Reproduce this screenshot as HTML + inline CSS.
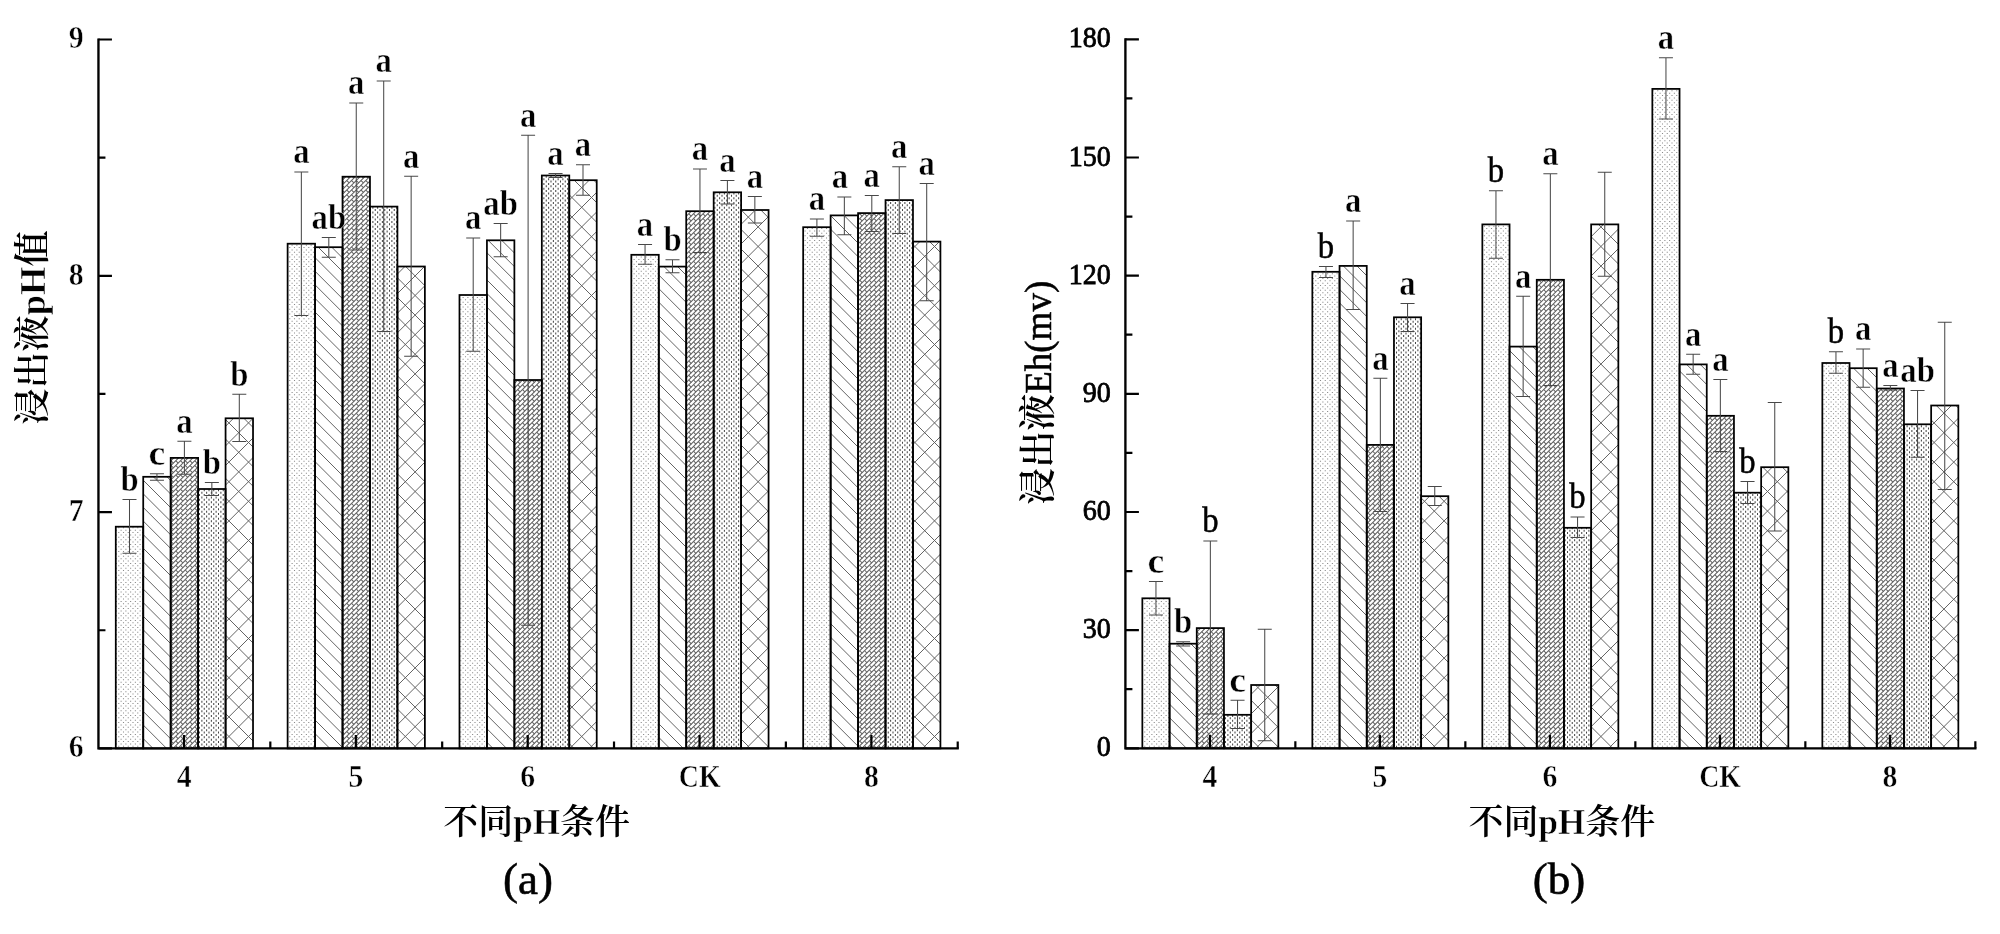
<!DOCTYPE html>
<html lang="zh">
<head>
<meta charset="utf-8">
<title>不同pH条件下浸出液pH值与Eh</title>
<style>
html,body{margin:0;padding:0;background:#fff}
body{width:2000px;height:934px;overflow:hidden}
svg{display:block;will-change:transform;opacity:.999}
text{fill:#000}
.sig{font-family:"Liberation Serif","Noto Serif CJK SC",serif;font-size:35px;font-weight:bold;text-anchor:middle;stroke:#fff;stroke-width:.5px}
.tk{font-family:"Liberation Serif","Noto Serif CJK SC",serif;font-size:31px;font-weight:bold;stroke:#fff;stroke-width:.5px}
.ttl{font-family:"Liberation Serif","Noto Serif CJK SC",serif;font-size:36px;font-weight:600;text-anchor:middle}
.cap{font-family:"Liberation Serif","Noto Serif CJK SC",serif;font-size:45px;text-anchor:middle;stroke:#000;stroke-width:.6px}
.b{font-weight:bold;stroke:#fff;stroke-width:.6px}
.r{font-weight:400;stroke:#000;stroke-width:.5px}
.tk.r{stroke-width:.8px;font-size:29.2px}
</style>
</head>
<body>
<svg width="2000" height="934" viewBox="0 0 2000 934">
<rect width="2000" height="934" fill="#fff"/>

<clipPath id="cL1">
<rect x="115.78" y="526.7" width="27.45" height="221.7"/>
<rect x="287.62" y="243.7" width="27.45" height="504.7"/>
<rect x="459.48" y="295" width="27.45" height="453.4"/>
<rect x="631.32" y="254.8" width="27.45" height="493.6"/>
<rect x="803.17" y="227.2" width="27.45" height="521.2"/>
</clipPath>
<clipPath id="cL2">
<rect x="143.22" y="476.8" width="27.45" height="271.6"/>
<rect x="315.07" y="247.2" width="27.45" height="501.2"/>
<rect x="486.93" y="240.3" width="27.45" height="508.1"/>
<rect x="658.77" y="266.6" width="27.45" height="481.8"/>
<rect x="830.62" y="215.4" width="27.45" height="533"/>
</clipPath>
<clipPath id="cL3">
<rect x="170.68" y="457.9" width="27.45" height="290.5"/>
<rect x="342.52" y="176.7" width="27.45" height="571.7"/>
<rect x="514.38" y="380" width="27.45" height="368.4"/>
<rect x="686.22" y="211.2" width="27.45" height="537.2"/>
<rect x="858.07" y="213.1" width="27.45" height="535.3"/>
</clipPath>
<clipPath id="cL4">
<rect x="198.12" y="489" width="27.45" height="259.4"/>
<rect x="369.98" y="206.6" width="27.45" height="541.8"/>
<rect x="541.83" y="175.5" width="27.45" height="572.9"/>
<rect x="713.67" y="192.3" width="27.45" height="556.1"/>
<rect x="885.52" y="200.1" width="27.45" height="548.3"/>
</clipPath>
<clipPath id="cL5">
<rect x="225.57" y="418.3" width="27.45" height="330.1"/>
<rect x="397.43" y="266.5" width="27.45" height="481.9"/>
<rect x="569.27" y="180.2" width="27.45" height="568.2"/>
<rect x="741.12" y="210" width="27.45" height="538.4"/>
<rect x="912.97" y="241.6" width="27.45" height="506.8"/>
</clipPath>
<g clip-path="url(#cL1)" fill="none" stroke="#8a8a8a" stroke-width="1.1" stroke-dasharray="1.1 3.65">
<path d="M118.75 517.75V748.4M123.5 517.75V748.4M128.25 517.75V748.4M133 517.75V748.4M137.75 517.75V748.4M142.5 517.75V748.4M289.75 237.5V748.4M294.5 237.5V748.4M299.25 237.5V748.4M304 237.5V748.4M308.75 237.5V748.4M313.5 237.5V748.4M460.75 285V748.4M465.5 285V748.4M470.25 285V748.4M475 285V748.4M479.75 285V748.4M484.5 285V748.4M631.75 247V748.4M636.5 247V748.4M641.25 247V748.4M646 247V748.4M650.75 247V748.4M655.5 247V748.4M802.75 218.5V748.4M807.5 218.5V748.4M812.25 218.5V748.4M817 218.5V748.4M821.75 218.5V748.4M826.5 218.5V748.4M831.25 218.5V748.4"/>
<path stroke-dashoffset="2.375" d="M116.38 517.75V748.4M121.12 517.75V748.4M125.88 517.75V748.4M130.62 517.75V748.4M135.38 517.75V748.4M140.12 517.75V748.4M287.38 237.5V748.4M292.12 237.5V748.4M296.88 237.5V748.4M301.62 237.5V748.4M306.38 237.5V748.4M311.12 237.5V748.4M315.88 237.5V748.4M463.12 285V748.4M467.88 285V748.4M472.62 285V748.4M477.38 285V748.4M482.12 285V748.4M486.88 285V748.4M634.12 247V748.4M638.88 247V748.4M643.62 247V748.4M648.38 247V748.4M653.12 247V748.4M657.88 247V748.4M805.12 218.5V748.4M809.88 218.5V748.4M814.62 218.5V748.4M819.38 218.5V748.4M824.12 218.5V748.4M828.88 218.5V748.4"/>
</g>
<g clip-path="url(#cL2)"><path d="M98.45 748.25L98.6 748.4M98.45 734.65L112.2 748.4M98.45 721.05L125.8 748.4M98.45 707.45L139.4 748.4M98.45 693.85L153 748.4M98.45 680.25L166.6 748.4M98.45 666.65L180.2 748.4M98.45 653.05L193.8 748.4M98.45 639.45L207.4 748.4M98.45 625.85L221 748.4M98.45 612.25L234.6 748.4M98.45 598.65L248.2 748.4M98.45 585.05L261.8 748.4M98.45 571.45L275.4 748.4M98.45 557.85L289 748.4M98.45 544.25L302.6 748.4M98.45 530.65L316.2 748.4M98.45 517.05L329.8 748.4M98.45 503.45L343.4 748.4M98.45 489.85L357 748.4M98.45 476.25L370.6 748.4M98.45 462.65L384.2 748.4M98.45 449.05L397.8 748.4M98.45 435.45L411.4 748.4M98.45 421.85L425 748.4M98.45 408.25L438.6 748.4M98.45 394.65L452.2 748.4M98.45 381.05L465.8 748.4M98.45 367.45L479.4 748.4M98.45 353.85L493 748.4M98.45 340.25L506.6 748.4M98.45 326.65L520.2 748.4M98.45 313.05L533.8 748.4M98.45 299.45L547.4 748.4M98.45 285.85L561 748.4M98.45 272.25L574.6 748.4M98.45 258.65L588.2 748.4M98.45 245.05L601.8 748.4M98.45 231.45L615.4 748.4M98.45 217.85L629 748.4M98.45 204.25L642.6 748.4M98.45 190.65L656.2 748.4M98.45 177.05L669.8 748.4M98.45 163.45L683.4 748.4M98.45 149.85L697 748.4M98.45 136.25L710.6 748.4M98.45 122.65L724.2 748.4M98.45 109.05L737.8 748.4M98.45 95.45L751.4 748.4M98.45 81.85L765 748.4M98.45 68.25L778.6 748.4M98.45 54.65L792.2 748.4M98.45 41.05L805.8 748.4M111 40L819.4 748.4M124.6 40L833 748.4M138.2 40L846.6 748.4M151.8 40L860.2 748.4M165.4 40L873.8 748.4M179 40L887.4 748.4M192.6 40L901 748.4M206.2 40L914.6 748.4M219.8 40L928.2 748.4M233.4 40L941.8 748.4M247 40L955.4 748.4M260.6 40L957.7 737.1M274.2 40L957.7 723.5M287.8 40L957.7 709.9M301.4 40L957.7 696.3M315 40L957.7 682.7M328.6 40L957.7 669.1M342.2 40L957.7 655.5M355.8 40L957.7 641.9M369.4 40L957.7 628.3M383 40L957.7 614.7M396.6 40L957.7 601.1M410.2 40L957.7 587.5M423.8 40L957.7 573.9M437.4 40L957.7 560.3M451 40L957.7 546.7M464.6 40L957.7 533.1M478.2 40L957.7 519.5M491.8 40L957.7 505.9M505.4 40L957.7 492.3M519 40L957.7 478.7M532.6 40L957.7 465.1M546.2 40L957.7 451.5M559.8 40L957.7 437.9M573.4 40L957.7 424.3M587 40L957.7 410.7M600.6 40L957.7 397.1M614.2 40L957.7 383.5M627.8 40L957.7 369.9M641.4 40L957.7 356.3M655 40L957.7 342.7M668.6 40L957.7 329.1M682.2 40L957.7 315.5M695.8 40L957.7 301.9M709.4 40L957.7 288.3M723 40L957.7 274.7M736.6 40L957.7 261.1M750.2 40L957.7 247.5M763.8 40L957.7 233.9M777.4 40L957.7 220.3M791 40L957.7 206.7M804.6 40L957.7 193.1M818.2 40L957.7 179.5M831.8 40L957.7 165.9M845.4 40L957.7 152.3M859 40L957.7 138.7M872.6 40L957.7 125.1M886.2 40L957.7 111.5M899.8 40L957.7 97.9M913.4 40L957.7 84.3M927 40L957.7 70.7M940.6 40L957.7 57.1M954.2 40L957.7 43.5" fill="none" stroke="#5c5c5c" stroke-width="0.95"/></g>
<g clip-path="url(#cL3)" fill="none">
<path d="M98.45 44.05L102.5 40M98.45 48.8L107.25 40M98.45 53.55L112 40M98.45 58.3L116.75 40M98.45 63.05L121.5 40M98.45 67.8L126.25 40M98.45 72.55L131 40M98.45 77.3L135.75 40M98.45 82.05L140.5 40M98.45 86.8L145.25 40M98.45 91.55L150 40M98.45 96.3L154.75 40M98.45 101.05L159.5 40M98.45 105.8L164.25 40M98.45 110.55L169 40M98.45 115.3L173.75 40M98.45 120.05L178.5 40M98.45 124.8L183.25 40M98.45 129.55L188 40M98.45 134.3L192.75 40M98.45 139.05L197.5 40M98.45 143.8L202.25 40M98.45 148.55L207 40M98.45 153.3L211.75 40M98.45 158.05L216.5 40M98.45 162.8L221.25 40M98.45 167.55L226 40M98.45 172.3L230.75 40M98.45 177.05L235.5 40M98.45 181.8L240.25 40M98.45 186.55L245 40M98.45 191.3L249.75 40M98.45 196.05L254.5 40M98.45 200.8L259.25 40M98.45 205.55L264 40M98.45 210.3L268.75 40M98.45 215.05L273.5 40M98.45 219.8L278.25 40M98.45 224.55L283 40M98.45 229.3L287.75 40M98.45 234.05L292.5 40M98.45 238.8L297.25 40M98.45 243.55L302 40M98.45 248.3L306.75 40M98.45 253.05L311.5 40M98.45 257.8L316.25 40M98.45 262.55L321 40M98.45 267.3L325.75 40M98.45 272.05L330.5 40M98.45 276.8L335.25 40M98.45 281.55L340 40M98.45 286.3L344.75 40M98.45 291.05L349.5 40M98.45 295.8L354.25 40M98.45 300.55L359 40M98.45 305.3L363.75 40M98.45 310.05L368.5 40M98.45 314.8L373.25 40M98.45 319.55L378 40M98.45 324.3L382.75 40M98.45 329.05L387.5 40M98.45 333.8L392.25 40M98.45 338.55L397 40M98.45 343.3L401.75 40M98.45 348.05L406.5 40M98.45 352.8L411.25 40M98.45 357.55L416 40M98.45 362.3L420.75 40M98.45 367.05L425.5 40M98.45 371.8L430.25 40M98.45 376.55L435 40M98.45 381.3L439.75 40M98.45 386.05L444.5 40M98.45 390.8L449.25 40M98.45 395.55L454 40M98.45 400.3L458.75 40M98.45 405.05L463.5 40M98.45 409.8L468.25 40M98.45 414.55L473 40M98.45 419.3L477.75 40M98.45 424.05L482.5 40M98.45 428.8L487.25 40M98.45 433.55L492 40M98.45 438.3L496.75 40M98.45 443.05L501.5 40M98.45 447.8L506.25 40M98.45 452.55L511 40M98.45 457.3L515.75 40M98.45 462.05L520.5 40M98.45 466.8L525.25 40M98.45 471.55L530 40M98.45 476.3L534.75 40M98.45 481.05L539.5 40M98.45 485.8L544.25 40M98.45 490.55L549 40M98.45 495.3L553.75 40M98.45 500.05L558.5 40M98.45 504.8L563.25 40M98.45 509.55L568 40M98.45 514.3L572.75 40M98.45 519.05L577.5 40M98.45 523.8L582.25 40M98.45 528.55L587 40M98.45 533.3L591.75 40M98.45 538.05L596.5 40M98.45 542.8L601.25 40M98.45 547.55L606 40M98.45 552.3L610.75 40M98.45 557.05L615.5 40M98.45 561.8L620.25 40M98.45 566.55L625 40M98.45 571.3L629.75 40M98.45 576.05L634.5 40M98.45 580.8L639.25 40M98.45 585.55L644 40M98.45 590.3L648.75 40M98.45 595.05L653.5 40M98.45 599.8L658.25 40M98.45 604.55L663 40M98.45 609.3L667.75 40M98.45 614.05L672.5 40M98.45 618.8L677.25 40M98.45 623.55L682 40M98.45 628.3L686.75 40M98.45 633.05L691.5 40M98.45 637.8L696.25 40M98.45 642.55L701 40M98.45 647.3L705.75 40M98.45 652.05L710.5 40M98.45 656.8L715.25 40M98.45 661.55L720 40M98.45 666.3L724.75 40M98.45 671.05L729.5 40M98.45 675.8L734.25 40M98.45 680.55L739 40M98.45 685.3L743.75 40M98.45 690.05L748.5 40M98.45 694.8L753.25 40M98.45 699.55L758 40M98.45 704.3L762.75 40M98.45 709.05L767.5 40M98.45 713.8L772.25 40M98.45 718.55L777 40M98.45 723.3L781.75 40M98.45 728.05L786.5 40M98.45 732.8L791.25 40M98.45 737.55L796 40M98.45 742.3L800.75 40M98.45 747.05L805.5 40M101.85 748.4L810.25 40M106.6 748.4L815 40M111.35 748.4L819.75 40M116.1 748.4L824.5 40M120.85 748.4L829.25 40M125.6 748.4L834 40M130.35 748.4L838.75 40M135.1 748.4L843.5 40M139.85 748.4L848.25 40M144.6 748.4L853 40M149.35 748.4L857.75 40M154.1 748.4L862.5 40M158.85 748.4L867.25 40M163.6 748.4L872 40M168.35 748.4L876.75 40M173.1 748.4L881.5 40M177.85 748.4L886.25 40M182.6 748.4L891 40M187.35 748.4L895.75 40M192.1 748.4L900.5 40M196.85 748.4L905.25 40M201.6 748.4L910 40M206.35 748.4L914.75 40M211.1 748.4L919.5 40M215.85 748.4L924.25 40M220.6 748.4L929 40M225.35 748.4L933.75 40M230.1 748.4L938.5 40M234.85 748.4L943.25 40M239.6 748.4L948 40M244.35 748.4L952.75 40M249.1 748.4L957.5 40M253.85 748.4L957.7 44.55M258.6 748.4L957.7 49.3M263.35 748.4L957.7 54.05M268.1 748.4L957.7 58.8M272.85 748.4L957.7 63.55M277.6 748.4L957.7 68.3M282.35 748.4L957.7 73.05M287.1 748.4L957.7 77.8M291.85 748.4L957.7 82.55M296.6 748.4L957.7 87.3M301.35 748.4L957.7 92.05M306.1 748.4L957.7 96.8M310.85 748.4L957.7 101.55M315.6 748.4L957.7 106.3M320.35 748.4L957.7 111.05M325.1 748.4L957.7 115.8M329.85 748.4L957.7 120.55M334.6 748.4L957.7 125.3M339.35 748.4L957.7 130.05M344.1 748.4L957.7 134.8M348.85 748.4L957.7 139.55M353.6 748.4L957.7 144.3M358.35 748.4L957.7 149.05M363.1 748.4L957.7 153.8M367.85 748.4L957.7 158.55M372.6 748.4L957.7 163.3M377.35 748.4L957.7 168.05M382.1 748.4L957.7 172.8M386.85 748.4L957.7 177.55M391.6 748.4L957.7 182.3M396.35 748.4L957.7 187.05M401.1 748.4L957.7 191.8M405.85 748.4L957.7 196.55M410.6 748.4L957.7 201.3M415.35 748.4L957.7 206.05M420.1 748.4L957.7 210.8M424.85 748.4L957.7 215.55M429.6 748.4L957.7 220.3M434.35 748.4L957.7 225.05M439.1 748.4L957.7 229.8M443.85 748.4L957.7 234.55M448.6 748.4L957.7 239.3M453.35 748.4L957.7 244.05M458.1 748.4L957.7 248.8M462.85 748.4L957.7 253.55M467.6 748.4L957.7 258.3M472.35 748.4L957.7 263.05M477.1 748.4L957.7 267.8M481.85 748.4L957.7 272.55M486.6 748.4L957.7 277.3M491.35 748.4L957.7 282.05M496.1 748.4L957.7 286.8M500.85 748.4L957.7 291.55M505.6 748.4L957.7 296.3M510.35 748.4L957.7 301.05M515.1 748.4L957.7 305.8M519.85 748.4L957.7 310.55M524.6 748.4L957.7 315.3M529.35 748.4L957.7 320.05M534.1 748.4L957.7 324.8M538.85 748.4L957.7 329.55M543.6 748.4L957.7 334.3M548.35 748.4L957.7 339.05M553.1 748.4L957.7 343.8M557.85 748.4L957.7 348.55M562.6 748.4L957.7 353.3M567.35 748.4L957.7 358.05M572.1 748.4L957.7 362.8M576.85 748.4L957.7 367.55M581.6 748.4L957.7 372.3M586.35 748.4L957.7 377.05M591.1 748.4L957.7 381.8M595.85 748.4L957.7 386.55M600.6 748.4L957.7 391.3M605.35 748.4L957.7 396.05M610.1 748.4L957.7 400.8M614.85 748.4L957.7 405.55M619.6 748.4L957.7 410.3M624.35 748.4L957.7 415.05M629.1 748.4L957.7 419.8M633.85 748.4L957.7 424.55M638.6 748.4L957.7 429.3M643.35 748.4L957.7 434.05M648.1 748.4L957.7 438.8M652.85 748.4L957.7 443.55M657.6 748.4L957.7 448.3M662.35 748.4L957.7 453.05M667.1 748.4L957.7 457.8M671.85 748.4L957.7 462.55M676.6 748.4L957.7 467.3M681.35 748.4L957.7 472.05M686.1 748.4L957.7 476.8M690.85 748.4L957.7 481.55M695.6 748.4L957.7 486.3M700.35 748.4L957.7 491.05M705.1 748.4L957.7 495.8M709.85 748.4L957.7 500.55M714.6 748.4L957.7 505.3M719.35 748.4L957.7 510.05M724.1 748.4L957.7 514.8M728.85 748.4L957.7 519.55M733.6 748.4L957.7 524.3M738.35 748.4L957.7 529.05M743.1 748.4L957.7 533.8M747.85 748.4L957.7 538.55M752.6 748.4L957.7 543.3M757.35 748.4L957.7 548.05M762.1 748.4L957.7 552.8M766.85 748.4L957.7 557.55M771.6 748.4L957.7 562.3M776.35 748.4L957.7 567.05M781.1 748.4L957.7 571.8M785.85 748.4L957.7 576.55M790.6 748.4L957.7 581.3M795.35 748.4L957.7 586.05M800.1 748.4L957.7 590.8M804.85 748.4L957.7 595.55M809.6 748.4L957.7 600.3M814.35 748.4L957.7 605.05M819.1 748.4L957.7 609.8M823.85 748.4L957.7 614.55M828.6 748.4L957.7 619.3M833.35 748.4L957.7 624.05M838.1 748.4L957.7 628.8M842.85 748.4L957.7 633.55M847.6 748.4L957.7 638.3M852.35 748.4L957.7 643.05M857.1 748.4L957.7 647.8M861.85 748.4L957.7 652.55M866.6 748.4L957.7 657.3M871.35 748.4L957.7 662.05M876.1 748.4L957.7 666.8M880.85 748.4L957.7 671.55M885.6 748.4L957.7 676.3M890.35 748.4L957.7 681.05M895.1 748.4L957.7 685.8M899.85 748.4L957.7 690.55M904.6 748.4L957.7 695.3M909.35 748.4L957.7 700.05M914.1 748.4L957.7 704.8M918.85 748.4L957.7 709.55M923.6 748.4L957.7 714.3M928.35 748.4L957.7 719.05M933.1 748.4L957.7 723.8M937.85 748.4L957.7 728.55M942.6 748.4L957.7 733.3M947.35 748.4L957.7 738.05M952.1 748.4L957.7 742.8M956.85 748.4L957.7 747.55" stroke="#626262" stroke-width="1.04"/>
<g stroke="#626262" stroke-width="1.02" stroke-dasharray="3.36 3.36">
<path d="M-266 380L534.8 1180.8M-261.25 375.25L539.55 1176.05M-256.5 370.5L544.3 1171.3M-251.75 365.75L549.05 1166.55M-247 361L553.8 1161.8M-242.25 356.25L558.55 1157.05M-237.5 351.5L563.3 1152.3M-232.75 346.75L568.05 1147.55M-228 342L572.8 1142.8M-223.25 337.25L577.55 1138.05M-218.5 332.5L582.3 1133.3M-213.75 327.75L587.05 1128.55M-209 323L591.8 1123.8M-204.25 318.25L596.55 1119.05M-199.5 313.5L601.3 1114.3M-194.75 308.75L606.05 1109.55M-190 304L610.8 1104.8M-185.25 299.25L615.55 1100.05M-180.5 294.5L620.3 1095.3M-175.75 289.75L625.05 1090.55M-171 285L629.8 1085.8M-166.25 280.25L634.55 1081.05M-161.5 275.5L639.3 1076.3M-156.75 270.75L644.05 1071.55M-152 266L648.8 1066.8M-147.25 261.25L653.55 1062.05M-142.5 256.5L658.3 1057.3M-137.75 251.75L663.05 1052.55M-133 247L667.8 1047.8M-128.25 242.25L672.55 1043.05M-123.5 237.5L677.3 1038.3M-118.75 232.75L682.05 1033.55M-114 228L686.8 1028.8M-109.25 223.25L691.55 1024.05M-104.5 218.5L696.3 1019.3M-99.75 213.75L701.05 1014.55M-95 209L705.8 1009.8M-90.25 204.25L710.55 1005.05M-85.5 199.5L715.3 1000.3M-80.75 194.75L720.05 995.55M-76 190L724.8 990.8M-71.25 185.25L729.55 986.05M-66.5 180.5L734.3 981.3M-61.75 175.75L739.05 976.55M-57 171L743.8 971.8M-52.25 166.25L748.55 967.05M-47.5 161.5L753.3 962.3M-42.75 156.75L758.05 957.55M-38 152L762.8 952.8M-33.25 147.25L767.55 948.05M-28.5 142.5L772.3 943.3M-23.75 137.75L777.05 938.55M-19 133L781.8 933.8M-14.25 128.25L786.55 929.05M-9.5 123.5L791.3 924.3M-4.75 118.75L796.05 919.55M0 114L800.8 914.8M4.75 109.25L805.55 910.05M9.5 104.5L810.3 905.3M14.25 99.75L815.05 900.55M19 95L819.8 895.8M23.75 90.25L824.55 891.05M28.5 85.5L829.3 886.3M33.25 80.75L834.05 881.55M38 76L838.8 876.8M42.75 71.25L843.55 872.05M47.5 66.5L848.3 867.3M52.25 61.75L853.05 862.55M57 57L857.8 857.8M61.75 52.25L862.55 853.05M66.5 47.5L867.3 848.3M71.25 42.75L872.05 843.55M76 38L876.8 838.8M80.75 33.25L881.55 834.05M85.5 28.5L886.3 829.3M90.25 23.75L891.05 824.55M95 19L895.8 819.8M99.75 14.25L900.55 815.05M104.5 9.5L905.3 810.3M109.25 4.75L910.05 805.55M114 0L914.8 800.8M118.75 -4.75L919.55 796.05M123.5 -9.5L924.3 791.3M128.25 -14.25L929.05 786.55M133 -19L933.8 781.8M137.75 -23.75L938.55 777.05M142.5 -28.5L943.3 772.3M147.25 -33.25L948.05 767.55M152 -38L952.8 762.8M156.75 -42.75L957.55 758.05M161.5 -47.5L962.3 753.3M166.25 -52.25L967.05 748.55M171 -57L971.8 743.8M175.75 -61.75L976.55 739.05M180.5 -66.5L981.3 734.3M185.25 -71.25L986.05 729.55M190 -76L990.8 724.8M194.75 -80.75L995.55 720.05M199.5 -85.5L1000.3 715.3M204.25 -90.25L1005.05 710.55M209 -95L1009.8 705.8M213.75 -99.75L1014.55 701.05M218.5 -104.5L1019.3 696.3M223.25 -109.25L1024.05 691.55M228 -114L1028.8 686.8M232.75 -118.75L1033.55 682.05M237.5 -123.5L1038.3 677.3M242.25 -128.25L1043.05 672.55M247 -133L1047.8 667.8M251.75 -137.75L1052.55 663.05M256.5 -142.5L1057.3 658.3M261.25 -147.25L1062.05 653.55M266 -152L1066.8 648.8M270.75 -156.75L1071.55 644.05M275.5 -161.5L1076.3 639.3M280.25 -166.25L1081.05 634.55M285 -171L1085.8 629.8M289.75 -175.75L1090.55 625.05M294.5 -180.5L1095.3 620.3M299.25 -185.25L1100.05 615.55M304 -190L1104.8 610.8M308.75 -194.75L1109.55 606.05M313.5 -199.5L1114.3 601.3M318.25 -204.25L1119.05 596.55M323 -209L1123.8 591.8M327.75 -213.75L1128.55 587.05M332.5 -218.5L1133.3 582.3M337.25 -223.25L1138.05 577.55M342 -228L1142.8 572.8M346.75 -232.75L1147.55 568.05M351.5 -237.5L1152.3 563.3M356.25 -242.25L1157.05 558.55M361 -247L1161.8 553.8M365.75 -251.75L1166.55 549.05M370.5 -256.5L1171.3 544.3M375.25 -261.25L1176.05 539.55M380 -266L1180.8 534.8M384.75 -270.75L1185.55 530.05M389.5 -275.5L1190.3 525.3M394.25 -280.25L1195.05 520.55M399 -285L1199.8 515.8M403.75 -289.75L1204.55 511.05M408.5 -294.5L1209.3 506.3M413.25 -299.25L1214.05 501.55M418 -304L1218.8 496.8M422.75 -308.75L1223.55 492.05M427.5 -313.5L1228.3 487.3M432.25 -318.25L1233.05 482.55M437 -323L1237.8 477.8M441.75 -327.75L1242.55 473.05M446.5 -332.5L1247.3 468.3M451.25 -337.25L1252.05 463.55M456 -342L1256.8 458.8M460.75 -346.75L1261.55 454.05M465.5 -351.5L1266.3 449.3M470.25 -356.25L1271.05 444.55M475 -361L1275.8 439.8M479.75 -365.75L1280.55 435.05M484.5 -370.5L1285.3 430.3M489.25 -375.25L1290.05 425.55M494 -380L1294.8 420.8M498.75 -384.75L1299.55 416.05M503.5 -389.5L1304.3 411.3M508.25 -394.25L1309.05 406.55M513 -399L1313.8 401.8M517.75 -403.75L1318.55 397.05"/>
<path stroke-dashoffset="3.36" d="M-268.38 382.38L532.42 1183.17M-263.62 377.62L537.17 1178.42M-258.88 372.88L541.92 1173.67M-254.12 368.12L546.67 1168.92M-249.38 363.38L551.42 1164.17M-244.62 358.62L556.17 1159.42M-239.88 353.88L560.92 1154.67M-235.12 349.12L565.67 1149.92M-230.38 344.38L570.42 1145.17M-225.62 339.62L575.17 1140.42M-220.88 334.88L579.92 1135.67M-216.12 330.12L584.67 1130.92M-211.38 325.38L589.42 1126.17M-206.62 320.62L594.17 1121.42M-201.88 315.88L598.92 1116.67M-197.12 311.12L603.67 1111.92M-192.38 306.38L608.42 1107.17M-187.62 301.62L613.17 1102.42M-182.88 296.88L617.92 1097.67M-178.12 292.12L622.67 1092.92M-173.38 287.38L627.42 1088.17M-168.62 282.62L632.17 1083.42M-163.88 277.88L636.92 1078.67M-159.12 273.12L641.67 1073.92M-154.38 268.38L646.42 1069.17M-149.62 263.62L651.17 1064.42M-144.88 258.88L655.92 1059.67M-140.12 254.12L660.67 1054.92M-135.38 249.38L665.42 1050.17M-130.62 244.62L670.17 1045.42M-125.88 239.88L674.92 1040.67M-121.12 235.12L679.67 1035.92M-116.38 230.38L684.42 1031.17M-111.62 225.62L689.17 1026.42M-106.88 220.88L693.92 1021.67M-102.12 216.12L698.67 1016.92M-97.38 211.38L703.42 1012.17M-92.62 206.62L708.17 1007.42M-87.88 201.88L712.92 1002.67M-83.12 197.12L717.67 997.92M-78.38 192.38L722.42 993.17M-73.62 187.62L727.17 988.42M-68.88 182.88L731.92 983.67M-64.12 178.12L736.67 978.92M-59.38 173.38L741.42 974.17M-54.62 168.62L746.17 969.42M-49.88 163.88L750.92 964.67M-45.12 159.12L755.67 959.92M-40.38 154.38L760.42 955.17M-35.62 149.62L765.17 950.42M-30.88 144.88L769.92 945.67M-26.12 140.12L774.67 940.92M-21.38 135.38L779.42 936.17M-16.62 130.62L784.17 931.42M-11.88 125.88L788.92 926.67M-7.12 121.12L793.67 921.92M-2.38 116.38L798.42 917.17M2.38 111.62L803.17 912.42M7.12 106.88L807.92 907.67M11.88 102.12L812.67 902.92M16.62 97.38L817.42 898.17M21.38 92.62L822.17 893.42M26.12 87.88L826.92 888.67M30.88 83.12L831.67 883.92M35.62 78.38L836.42 879.17M40.38 73.62L841.17 874.42M45.12 68.88L845.92 869.67M49.88 64.12L850.67 864.92M54.62 59.38L855.42 860.17M59.38 54.62L860.17 855.42M64.12 49.88L864.92 850.67M68.88 45.12L869.67 845.92M73.62 40.38L874.42 841.17M78.38 35.62L879.17 836.42M83.12 30.88L883.92 831.67M87.88 26.12L888.67 826.92M92.62 21.38L893.42 822.17M97.38 16.62L898.17 817.42M102.12 11.88L902.92 812.67M106.88 7.12L907.67 807.92M111.62 2.38L912.42 803.17M116.38 -2.38L917.17 798.42M121.12 -7.12L921.92 793.67M125.88 -11.88L926.67 788.92M130.62 -16.62L931.42 784.17M135.38 -21.38L936.17 779.42M140.12 -26.12L940.92 774.67M144.88 -30.88L945.67 769.92M149.62 -35.62L950.42 765.17M154.38 -40.38L955.17 760.42M159.12 -45.12L959.92 755.67M163.88 -49.88L964.67 750.92M168.62 -54.62L969.42 746.17M173.38 -59.38L974.17 741.42M178.12 -64.12L978.92 736.67M182.88 -68.88L983.67 731.92M187.62 -73.62L988.42 727.17M192.38 -78.38L993.17 722.42M197.12 -83.12L997.92 717.67M201.88 -87.88L1002.67 712.92M206.62 -92.62L1007.42 708.17M211.38 -97.38L1012.17 703.42M216.12 -102.12L1016.92 698.67M220.88 -106.88L1021.67 693.92M225.62 -111.62L1026.42 689.17M230.38 -116.38L1031.17 684.42M235.12 -121.12L1035.92 679.67M239.88 -125.88L1040.67 674.92M244.62 -130.62L1045.42 670.17M249.38 -135.38L1050.17 665.42M254.12 -140.12L1054.92 660.67M258.88 -144.88L1059.67 655.92M263.62 -149.62L1064.42 651.17M268.38 -154.38L1069.17 646.42M273.12 -159.12L1073.92 641.67M277.88 -163.88L1078.67 636.92M282.62 -168.62L1083.42 632.17M287.38 -173.38L1088.17 627.42M292.12 -178.12L1092.92 622.67M296.88 -182.88L1097.67 617.92M301.62 -187.62L1102.42 613.17M306.38 -192.38L1107.17 608.42M311.12 -197.12L1111.92 603.67M315.88 -201.88L1116.67 598.92M320.62 -206.62L1121.42 594.17M325.38 -211.38L1126.17 589.42M330.12 -216.12L1130.92 584.67M334.88 -220.88L1135.67 579.92M339.62 -225.62L1140.42 575.17M344.38 -230.38L1145.17 570.42M349.12 -235.12L1149.92 565.67M353.88 -239.88L1154.67 560.92M358.62 -244.62L1159.42 556.17M363.38 -249.38L1164.17 551.42M368.12 -254.12L1168.92 546.67M372.88 -258.88L1173.67 541.92M377.62 -263.62L1178.42 537.17M382.38 -268.38L1183.17 532.42M387.12 -273.12L1187.92 527.67M391.88 -277.88L1192.67 522.92M396.62 -282.62L1197.42 518.17M401.38 -287.38L1202.17 513.42M406.12 -292.12L1206.92 508.67M410.88 -296.88L1211.67 503.92M415.62 -301.62L1216.42 499.17M420.38 -306.38L1221.17 494.42M425.12 -311.12L1225.92 489.67M429.88 -315.88L1230.67 484.92M434.62 -320.62L1235.42 480.17M439.38 -325.38L1240.17 475.42M444.12 -330.12L1244.92 470.67M448.88 -334.88L1249.67 465.92M453.62 -339.62L1254.42 461.17M458.38 -344.38L1259.17 456.42M463.12 -349.12L1263.92 451.67M467.88 -353.88L1268.67 446.92M472.62 -358.62L1273.42 442.17M477.38 -363.38L1278.17 437.42M482.12 -368.12L1282.92 432.67M486.88 -372.88L1287.67 427.92M491.62 -377.62L1292.42 423.17M496.38 -382.38L1297.17 418.42M501.12 -387.12L1301.92 413.67M505.88 -391.88L1306.67 408.92M510.62 -396.62L1311.42 404.17M515.38 -401.38L1316.17 399.42"/>
</g></g>
<g clip-path="url(#cL4)" fill="none" stroke="#484848" stroke-width="1.05" stroke-dasharray="2.1 2.65">
<path d="M199.5 479.75V748.4M204.25 479.75V748.4M209 479.75V748.4M213.75 479.75V748.4M218.5 479.75V748.4M223.25 479.75V748.4M370.5 199.5V748.4M375.25 199.5V748.4M380 199.5V748.4M384.75 199.5V748.4M389.5 199.5V748.4M394.25 199.5V748.4M541.5 166.25V748.4M546.25 166.25V748.4M551 166.25V748.4M555.75 166.25V748.4M560.5 166.25V748.4M565.25 166.25V748.4M570 166.25V748.4M717.25 185.25V748.4M722 185.25V748.4M726.75 185.25V748.4M731.5 185.25V748.4M736.25 185.25V748.4M741 185.25V748.4M888.25 190V748.4M893 190V748.4M897.75 190V748.4M902.5 190V748.4M907.25 190V748.4M912 190V748.4"/>
<path stroke-dashoffset="2.375" d="M197.12 479.75V748.4M201.88 479.75V748.4M206.62 479.75V748.4M211.38 479.75V748.4M216.12 479.75V748.4M220.88 479.75V748.4M225.62 479.75V748.4M372.88 199.5V748.4M377.62 199.5V748.4M382.38 199.5V748.4M387.12 199.5V748.4M391.88 199.5V748.4M396.62 199.5V748.4M543.88 166.25V748.4M548.62 166.25V748.4M553.38 166.25V748.4M558.12 166.25V748.4M562.88 166.25V748.4M567.62 166.25V748.4M714.88 185.25V748.4M719.62 185.25V748.4M724.38 185.25V748.4M729.12 185.25V748.4M733.88 185.25V748.4M738.62 185.25V748.4M885.88 190V748.4M890.62 190V748.4M895.38 190V748.4M900.12 190V748.4M904.88 190V748.4M909.62 190V748.4"/>
</g>
<g clip-path="url(#cL5)"><path d="M98.45 43.75L102.2 40M98.45 63.35L121.8 40M98.45 82.95L141.4 40M98.45 102.55L161 40M98.45 122.15L180.6 40M98.45 141.75L200.2 40M98.45 161.35L219.8 40M98.45 180.95L239.4 40M98.45 200.55L259 40M98.45 220.15L278.6 40M98.45 239.75L298.2 40M98.45 259.35L317.8 40M98.45 278.95L337.4 40M98.45 298.55L357 40M98.45 318.15L376.6 40M98.45 337.75L396.2 40M98.45 357.35L415.8 40M98.45 376.95L435.4 40M98.45 396.55L455 40M98.45 416.15L474.6 40M98.45 435.75L494.2 40M98.45 455.35L513.8 40M98.45 474.95L533.4 40M98.45 494.55L553 40M98.45 514.15L572.6 40M98.45 533.75L592.2 40M98.45 553.35L611.8 40M98.45 572.95L631.4 40M98.45 592.55L651 40M98.45 612.15L670.6 40M98.45 631.75L690.2 40M98.45 651.35L709.8 40M98.45 670.95L729.4 40M98.45 690.55L749 40M98.45 710.15L768.6 40M98.45 729.75L788.2 40M99.4 748.4L807.8 40M119 748.4L827.4 40M138.6 748.4L847 40M158.2 748.4L866.6 40M177.8 748.4L886.2 40M197.4 748.4L905.8 40M217 748.4L925.4 40M236.6 748.4L945 40M256.2 748.4L957.7 46.9M275.8 748.4L957.7 66.5M295.4 748.4L957.7 86.1M315 748.4L957.7 105.7M334.6 748.4L957.7 125.3M354.2 748.4L957.7 144.9M373.8 748.4L957.7 164.5M393.4 748.4L957.7 184.1M413 748.4L957.7 203.7M432.6 748.4L957.7 223.3M452.2 748.4L957.7 242.9M471.8 748.4L957.7 262.5M491.4 748.4L957.7 282.1M511 748.4L957.7 301.7M530.6 748.4L957.7 321.3M550.2 748.4L957.7 340.9M569.8 748.4L957.7 360.5M589.4 748.4L957.7 380.1M609 748.4L957.7 399.7M628.6 748.4L957.7 419.3M648.2 748.4L957.7 438.9M667.8 748.4L957.7 458.5M687.4 748.4L957.7 478.1M707 748.4L957.7 497.7M726.6 748.4L957.7 517.3M746.2 748.4L957.7 536.9M765.8 748.4L957.7 556.5M785.4 748.4L957.7 576.1M805 748.4L957.7 595.7M824.6 748.4L957.7 615.3M844.2 748.4L957.7 634.9M863.8 748.4L957.7 654.5M883.4 748.4L957.7 674.1M903 748.4L957.7 693.7M922.6 748.4L957.7 713.3M942.2 748.4L957.7 732.9M98.45 743.25L103.6 748.4M98.45 723.65L123.2 748.4M98.45 704.05L142.8 748.4M98.45 684.45L162.4 748.4M98.45 664.85L182 748.4M98.45 645.25L201.6 748.4M98.45 625.65L221.2 748.4M98.45 606.05L240.8 748.4M98.45 586.45L260.4 748.4M98.45 566.85L280 748.4M98.45 547.25L299.6 748.4M98.45 527.65L319.2 748.4M98.45 508.05L338.8 748.4M98.45 488.45L358.4 748.4M98.45 468.85L378 748.4M98.45 449.25L397.6 748.4M98.45 429.65L417.2 748.4M98.45 410.05L436.8 748.4M98.45 390.45L456.4 748.4M98.45 370.85L476 748.4M98.45 351.25L495.6 748.4M98.45 331.65L515.2 748.4M98.45 312.05L534.8 748.4M98.45 292.45L554.4 748.4M98.45 272.85L574 748.4M98.45 253.25L593.6 748.4M98.45 233.65L613.2 748.4M98.45 214.05L632.8 748.4M98.45 194.45L652.4 748.4M98.45 174.85L672 748.4M98.45 155.25L691.6 748.4M98.45 135.65L711.2 748.4M98.45 116.05L730.8 748.4M98.45 96.45L750.4 748.4M98.45 76.85L770 748.4M98.45 57.25L789.6 748.4M100.8 40L809.2 748.4M120.4 40L828.8 748.4M140 40L848.4 748.4M159.6 40L868 748.4M179.2 40L887.6 748.4M198.8 40L907.2 748.4M218.4 40L926.8 748.4M238 40L946.4 748.4M257.6 40L957.7 740.1M277.2 40L957.7 720.5M296.8 40L957.7 700.9M316.4 40L957.7 681.3M336 40L957.7 661.7M355.6 40L957.7 642.1M375.2 40L957.7 622.5M394.8 40L957.7 602.9M414.4 40L957.7 583.3M434 40L957.7 563.7M453.6 40L957.7 544.1M473.2 40L957.7 524.5M492.8 40L957.7 504.9M512.4 40L957.7 485.3M532 40L957.7 465.7M551.6 40L957.7 446.1M571.2 40L957.7 426.5M590.8 40L957.7 406.9M610.4 40L957.7 387.3M630 40L957.7 367.7M649.6 40L957.7 348.1M669.2 40L957.7 328.5M688.8 40L957.7 308.9M708.4 40L957.7 289.3M728 40L957.7 269.7M747.6 40L957.7 250.1M767.2 40L957.7 230.5M786.8 40L957.7 210.9M806.4 40L957.7 191.3M826 40L957.7 171.7M845.6 40L957.7 152.1M865.2 40L957.7 132.5M884.8 40L957.7 112.9M904.4 40L957.7 93.3M924 40L957.7 73.7M943.6 40L957.7 54.1" fill="none" stroke="#5c5c5c" stroke-width="0.95"/></g>
<rect x="115.78" y="526.7" width="27.45" height="221.7" fill="none" stroke="#000" stroke-width="1.75"/>
<rect x="143.22" y="476.8" width="27.45" height="271.6" fill="none" stroke="#000" stroke-width="1.75"/>
<rect x="170.68" y="457.9" width="27.45" height="290.5" fill="none" stroke="#000" stroke-width="1.75"/>
<rect x="198.12" y="489" width="27.45" height="259.4" fill="none" stroke="#000" stroke-width="1.75"/>
<rect x="225.57" y="418.3" width="27.45" height="330.1" fill="none" stroke="#000" stroke-width="1.75"/>
<rect x="287.62" y="243.7" width="27.45" height="504.7" fill="none" stroke="#000" stroke-width="1.75"/>
<rect x="315.07" y="247.2" width="27.45" height="501.2" fill="none" stroke="#000" stroke-width="1.75"/>
<rect x="342.52" y="176.7" width="27.45" height="571.7" fill="none" stroke="#000" stroke-width="1.75"/>
<rect x="369.98" y="206.6" width="27.45" height="541.8" fill="none" stroke="#000" stroke-width="1.75"/>
<rect x="397.43" y="266.5" width="27.45" height="481.9" fill="none" stroke="#000" stroke-width="1.75"/>
<rect x="459.48" y="295" width="27.45" height="453.4" fill="none" stroke="#000" stroke-width="1.75"/>
<rect x="486.93" y="240.3" width="27.45" height="508.1" fill="none" stroke="#000" stroke-width="1.75"/>
<rect x="514.38" y="380" width="27.45" height="368.4" fill="none" stroke="#000" stroke-width="1.75"/>
<rect x="541.83" y="175.5" width="27.45" height="572.9" fill="none" stroke="#000" stroke-width="1.75"/>
<rect x="569.27" y="180.2" width="27.45" height="568.2" fill="none" stroke="#000" stroke-width="1.75"/>
<rect x="631.32" y="254.8" width="27.45" height="493.6" fill="none" stroke="#000" stroke-width="1.75"/>
<rect x="658.77" y="266.6" width="27.45" height="481.8" fill="none" stroke="#000" stroke-width="1.75"/>
<rect x="686.22" y="211.2" width="27.45" height="537.2" fill="none" stroke="#000" stroke-width="1.75"/>
<rect x="713.67" y="192.3" width="27.45" height="556.1" fill="none" stroke="#000" stroke-width="1.75"/>
<rect x="741.12" y="210" width="27.45" height="538.4" fill="none" stroke="#000" stroke-width="1.75"/>
<rect x="803.17" y="227.2" width="27.45" height="521.2" fill="none" stroke="#000" stroke-width="1.75"/>
<rect x="830.62" y="215.4" width="27.45" height="533" fill="none" stroke="#000" stroke-width="1.75"/>
<rect x="858.07" y="213.1" width="27.45" height="535.3" fill="none" stroke="#000" stroke-width="1.75"/>
<rect x="885.52" y="200.1" width="27.45" height="548.3" fill="none" stroke="#000" stroke-width="1.75"/>
<rect x="912.97" y="241.6" width="27.45" height="506.8" fill="none" stroke="#000" stroke-width="1.75"/>
<path d="M129.5 499.6V553.3M122.5 499.6h14M122.5 553.3h14" fill="none" stroke="#484848" stroke-width="1.03"/>
<text class="sig" transform="translate(129.5 490.9) scale(0.935 1)">b</text>
<path d="M156.95 473.7V480.3M149.95 473.7h14M149.95 480.3h14" fill="none" stroke="#484848" stroke-width="1.03"/>
<text class="sig" transform="translate(156.95 465) scale(1.08 1)">c</text>
<path d="M184.4 441.2V474.2M177.4 441.2h14M177.4 474.2h14" fill="none" stroke="#484848" stroke-width="1.03"/>
<text class="sig" transform="translate(184.4 432.5) scale(0.935 1)">a</text>
<path d="M211.85 482.4V495.4M204.85 482.4h14M204.85 495.4h14" fill="none" stroke="#484848" stroke-width="1.03"/>
<text class="sig" transform="translate(211.85 473.7) scale(0.935 1)">b</text>
<path d="M239.3 394.3V441.4M232.3 394.3h14M232.3 441.4h14" fill="none" stroke="#484848" stroke-width="1.03"/>
<text class="sig" transform="translate(239.3 385.6) scale(0.935 1)">b</text>
<path d="M301.35 172V315.5M294.35 172h14M294.35 315.5h14" fill="none" stroke="#484848" stroke-width="1.03"/>
<text class="sig" transform="translate(301.35 163.3) scale(0.935 1)">a</text>
<path d="M328.8 237.6V257.3M321.8 237.6h14M321.8 257.3h14" fill="none" stroke="#484848" stroke-width="1.03"/>
<text class="sig" transform="translate(328.8 228.9) scale(0.935 1)">ab</text>
<path d="M356.25 102.9V250M349.25 102.9h14M349.25 250h14" fill="none" stroke="#484848" stroke-width="1.03"/>
<text class="sig" transform="translate(356.25 94.2) scale(0.935 1)">a</text>
<path d="M383.7 81V331.5M376.7 81h14M376.7 331.5h14" fill="none" stroke="#484848" stroke-width="1.03"/>
<text class="sig" transform="translate(383.7 72.3) scale(0.935 1)">a</text>
<path d="M411.15 176.2V356.2M404.15 176.2h14M404.15 356.2h14" fill="none" stroke="#484848" stroke-width="1.03"/>
<text class="sig" transform="translate(411.15 167.5) scale(0.935 1)">a</text>
<path d="M473.2 238V351.3M466.2 238h14M466.2 351.3h14" fill="none" stroke="#484848" stroke-width="1.03"/>
<text class="sig" transform="translate(473.2 229.3) scale(0.935 1)">a</text>
<path d="M500.65 223.6V256.8M493.65 223.6h14M493.65 256.8h14" fill="none" stroke="#484848" stroke-width="1.03"/>
<text class="sig" transform="translate(500.65 214.9) scale(0.935 1)">ab</text>
<path d="M528.1 135.2V625.2M521.1 135.2h14M521.1 625.2h14" fill="none" stroke="#484848" stroke-width="1.03"/>
<text class="sig" transform="translate(528.1 126.5) scale(0.935 1)">a</text>
<path d="M555.55 173.6V177.4M548.55 173.6h14M548.55 177.4h14" fill="none" stroke="#484848" stroke-width="1.03"/>
<text class="sig" transform="translate(555.55 164.9) scale(0.935 1)">a</text>
<path d="M583 164.7V195.3M576 164.7h14M576 195.3h14" fill="none" stroke="#484848" stroke-width="1.03"/>
<text class="sig" transform="translate(583 156) scale(0.935 1)">a</text>
<path d="M645.05 244.4V264.2M638.05 244.4h14M638.05 264.2h14" fill="none" stroke="#484848" stroke-width="1.03"/>
<text class="sig" transform="translate(645.05 235.7) scale(0.935 1)">a</text>
<path d="M672.5 259.7V272.7M665.5 259.7h14M665.5 272.7h14" fill="none" stroke="#484848" stroke-width="1.03"/>
<text class="sig" transform="translate(672.5 251) scale(0.935 1)">b</text>
<path d="M699.95 169V252.4M692.95 169h14M692.95 252.4h14" fill="none" stroke="#484848" stroke-width="1.03"/>
<text class="sig" transform="translate(699.95 160.3) scale(0.935 1)">a</text>
<path d="M727.4 180.6V204.1M720.4 180.6h14M720.4 204.1h14" fill="none" stroke="#484848" stroke-width="1.03"/>
<text class="sig" transform="translate(727.4 171.9) scale(0.935 1)">a</text>
<path d="M754.85 196.6V223M747.85 196.6h14M747.85 223h14" fill="none" stroke="#484848" stroke-width="1.03"/>
<text class="sig" transform="translate(754.85 187.9) scale(0.935 1)">a</text>
<path d="M816.9 219V236.2M809.9 219h14M809.9 236.2h14" fill="none" stroke="#484848" stroke-width="1.03"/>
<text class="sig" transform="translate(816.9 210.3) scale(0.935 1)">a</text>
<path d="M844.35 197V234.7M837.35 197h14M837.35 234.7h14" fill="none" stroke="#484848" stroke-width="1.03"/>
<text class="sig" transform="translate(840.05 188.3) scale(0.935 1)">a</text>
<path d="M871.8 195.4V231.5M864.8 195.4h14M864.8 231.5h14" fill="none" stroke="#484848" stroke-width="1.03"/>
<text class="sig" transform="translate(871.8 186.7) scale(0.935 1)">a</text>
<path d="M899.25 166.7V233.6M892.25 166.7h14M892.25 233.6h14" fill="none" stroke="#484848" stroke-width="1.03"/>
<text class="sig" transform="translate(899.25 158) scale(0.935 1)">a</text>
<path d="M926.7 183.6V300.7M919.7 183.6h14M919.7 300.7h14" fill="none" stroke="#484848" stroke-width="1.03"/>
<text class="sig" transform="translate(926.7 174.9) scale(0.935 1)">a</text>
<path d="M98.45 38.4V748.4H958.8" fill="none" stroke="#000" stroke-width="2.35" stroke-linejoin="miter"/>
<path d="M98.45 39.5h13.5M98.45 275.8h13.5M98.45 512.1h13.5M98.45 748.4h13.5M98.45 157.65h7M98.45 393.95h7M98.45 630.25h7M184 748.4v-13.5M270.32 748.4v-7M355.85 748.4v-13.5M442.18 748.4v-7M527.7 748.4v-13.5M614.02 748.4v-7M699.55 748.4v-13.5M785.87 748.4v-7M871.4 748.4v-13.5M957.72 748.4v-7" fill="none" stroke="#000" stroke-width="2.2"/>
<text class="tk" text-anchor="end" transform="translate(83.55 48.4) scale(0.96 1)">9</text>
<text class="tk" text-anchor="end" transform="translate(83.55 284.7) scale(0.96 1)">8</text>
<text class="tk" text-anchor="end" transform="translate(83.55 521) scale(0.96 1)">7</text>
<text class="tk" text-anchor="end" transform="translate(83.55 757.3) scale(0.96 1)">6</text>
<text class="tk" text-anchor="middle" transform="translate(184.1 787) scale(0.96 1)">4</text>
<text class="tk" text-anchor="middle" transform="translate(355.95 787) scale(0.96 1)">5</text>
<text class="tk" text-anchor="middle" transform="translate(527.8 787) scale(0.96 1)">6</text>
<text class="tk" text-anchor="middle" transform="translate(699.65 787) scale(0.9 1)">CK</text>
<text class="tk" text-anchor="middle" transform="translate(871.5 787) scale(0.96 1)">8</text>
<clipPath id="cR1">
<rect x="1142.35" y="598.3" width="27.2" height="150"/>
<rect x="1312.35" y="271.8" width="27.2" height="476.5"/>
<rect x="1482.35" y="224.4" width="27.2" height="523.9"/>
<rect x="1652.35" y="88.9" width="27.2" height="659.4"/>
<rect x="1822.35" y="363" width="27.2" height="385.3"/>
</clipPath>
<clipPath id="cR2">
<rect x="1169.55" y="643.7" width="27.2" height="104.6"/>
<rect x="1339.55" y="265.9" width="27.2" height="482.4"/>
<rect x="1509.55" y="346.6" width="27.2" height="401.7"/>
<rect x="1679.55" y="364.4" width="27.2" height="383.9"/>
<rect x="1849.55" y="368.2" width="27.2" height="380.1"/>
</clipPath>
<clipPath id="cR3">
<rect x="1196.75" y="628.1" width="27.2" height="120.2"/>
<rect x="1366.75" y="444.9" width="27.2" height="303.4"/>
<rect x="1536.75" y="279.8" width="27.2" height="468.5"/>
<rect x="1706.75" y="415.8" width="27.2" height="332.5"/>
<rect x="1876.75" y="388.5" width="27.2" height="359.8"/>
</clipPath>
<clipPath id="cR4">
<rect x="1223.95" y="714.8" width="27.2" height="33.5"/>
<rect x="1393.95" y="317.3" width="27.2" height="431"/>
<rect x="1563.95" y="527.8" width="27.2" height="220.5"/>
<rect x="1733.95" y="492.7" width="27.2" height="255.6"/>
<rect x="1903.95" y="424.3" width="27.2" height="324"/>
</clipPath>
<clipPath id="cR5">
<rect x="1251.15" y="685" width="27.2" height="63.3"/>
<rect x="1421.15" y="496.2" width="27.2" height="252.1"/>
<rect x="1591.15" y="224.4" width="27.2" height="523.9"/>
<rect x="1761.15" y="467.2" width="27.2" height="281.1"/>
<rect x="1931.15" y="405.5" width="27.2" height="342.8"/>
</clipPath>
<g clip-path="url(#cR1)" fill="none" stroke="#8a8a8a" stroke-width="1.1" stroke-dasharray="1.1 3.65">
<path d="M1144.75 589V748.3M1149.5 589V748.3M1154.25 589V748.3M1159 589V748.3M1163.75 589V748.3M1168.5 589V748.3M1315.75 261.25V748.3M1320.5 261.25V748.3M1325.25 261.25V748.3M1330 261.25V748.3M1334.75 261.25V748.3M1339.5 261.25V748.3M1482 213.75V748.3M1486.75 213.75V748.3M1491.5 213.75V748.3M1496.25 213.75V748.3M1501 213.75V748.3M1505.75 213.75V748.3M1510.5 213.75V748.3M1653 80.75V748.3M1657.75 80.75V748.3M1662.5 80.75V748.3M1667.25 80.75V748.3M1672 80.75V748.3M1676.75 80.75V748.3M1824 356.25V748.3M1828.75 356.25V748.3M1833.5 356.25V748.3M1838.25 356.25V748.3M1843 356.25V748.3M1847.75 356.25V748.3"/>
<path stroke-dashoffset="2.375" d="M1142.38 589V748.3M1147.12 589V748.3M1151.88 589V748.3M1156.62 589V748.3M1161.38 589V748.3M1166.12 589V748.3M1313.38 261.25V748.3M1318.12 261.25V748.3M1322.88 261.25V748.3M1327.62 261.25V748.3M1332.38 261.25V748.3M1337.12 261.25V748.3M1484.38 213.75V748.3M1489.12 213.75V748.3M1493.88 213.75V748.3M1498.62 213.75V748.3M1503.38 213.75V748.3M1508.12 213.75V748.3M1655.38 80.75V748.3M1660.12 80.75V748.3M1664.88 80.75V748.3M1669.62 80.75V748.3M1674.38 80.75V748.3M1679.12 80.75V748.3M1821.62 356.25V748.3M1826.38 356.25V748.3M1831.12 356.25V748.3M1835.88 356.25V748.3M1840.62 356.25V748.3M1845.38 356.25V748.3M1850.12 356.25V748.3"/>
</g>
<g clip-path="url(#cR2)"><path d="M1125.4 741.6L1132.1 748.3M1125.4 728L1145.7 748.3M1125.4 714.4L1159.3 748.3M1125.4 700.8L1172.9 748.3M1125.4 687.2L1186.5 748.3M1125.4 673.6L1200.1 748.3M1125.4 660L1213.7 748.3M1125.4 646.4L1227.3 748.3M1125.4 632.8L1240.9 748.3M1125.4 619.2L1254.5 748.3M1125.4 605.6L1268.1 748.3M1125.4 592L1281.7 748.3M1125.4 578.4L1295.3 748.3M1125.4 564.8L1308.9 748.3M1125.4 551.2L1322.5 748.3M1125.4 537.6L1336.1 748.3M1125.4 524L1349.7 748.3M1125.4 510.4L1363.3 748.3M1125.4 496.8L1376.9 748.3M1125.4 483.2L1390.5 748.3M1125.4 469.6L1404.1 748.3M1125.4 456L1417.7 748.3M1125.4 442.4L1431.3 748.3M1125.4 428.8L1444.9 748.3M1125.4 415.2L1458.5 748.3M1125.4 401.6L1472.1 748.3M1125.4 388L1485.7 748.3M1125.4 374.4L1499.3 748.3M1125.4 360.8L1512.9 748.3M1125.4 347.2L1526.5 748.3M1125.4 333.6L1540.1 748.3M1125.4 320L1553.7 748.3M1125.4 306.4L1567.3 748.3M1125.4 292.8L1580.9 748.3M1125.4 279.2L1594.5 748.3M1125.4 265.6L1608.1 748.3M1125.4 252L1621.7 748.3M1125.4 238.4L1635.3 748.3M1125.4 224.8L1648.9 748.3M1125.4 211.2L1662.5 748.3M1125.4 197.6L1676.1 748.3M1125.4 184L1689.7 748.3M1125.4 170.4L1703.3 748.3M1125.4 156.8L1716.9 748.3M1125.4 143.2L1730.5 748.3M1125.4 129.6L1744.1 748.3M1125.4 116L1757.7 748.3M1125.4 102.4L1771.3 748.3M1125.4 88.8L1784.9 748.3M1125.4 75.2L1798.5 748.3M1125.4 61.6L1812.1 748.3M1125.4 48L1825.7 748.3M1131 40L1839.3 748.3M1144.6 40L1852.9 748.3M1158.2 40L1866.5 748.3M1171.8 40L1880.1 748.3M1185.4 40L1893.7 748.3M1199 40L1907.3 748.3M1212.6 40L1920.9 748.3M1226.2 40L1934.5 748.3M1239.8 40L1948.1 748.3M1253.4 40L1961.7 748.3M1267 40L1975.3 748.3M1280.6 40L1975.4 734.8M1294.2 40L1975.4 721.2M1307.8 40L1975.4 707.6M1321.4 40L1975.4 694M1335 40L1975.4 680.4M1348.6 40L1975.4 666.8M1362.2 40L1975.4 653.2M1375.8 40L1975.4 639.6M1389.4 40L1975.4 626M1403 40L1975.4 612.4M1416.6 40L1975.4 598.8M1430.2 40L1975.4 585.2M1443.8 40L1975.4 571.6M1457.4 40L1975.4 558M1471 40L1975.4 544.4M1484.6 40L1975.4 530.8M1498.2 40L1975.4 517.2M1511.8 40L1975.4 503.6M1525.4 40L1975.4 490M1539 40L1975.4 476.4M1552.6 40L1975.4 462.8M1566.2 40L1975.4 449.2M1579.8 40L1975.4 435.6M1593.4 40L1975.4 422M1607 40L1975.4 408.4M1620.6 40L1975.4 394.8M1634.2 40L1975.4 381.2M1647.8 40L1975.4 367.6M1661.4 40L1975.4 354M1675 40L1975.4 340.4M1688.6 40L1975.4 326.8M1702.2 40L1975.4 313.2M1715.8 40L1975.4 299.6M1729.4 40L1975.4 286M1743 40L1975.4 272.4M1756.6 40L1975.4 258.8M1770.2 40L1975.4 245.2M1783.8 40L1975.4 231.6M1797.4 40L1975.4 218M1811 40L1975.4 204.4M1824.6 40L1975.4 190.8M1838.2 40L1975.4 177.2M1851.8 40L1975.4 163.6M1865.4 40L1975.4 150M1879 40L1975.4 136.4M1892.6 40L1975.4 122.8M1906.2 40L1975.4 109.2M1919.8 40L1975.4 95.6M1933.4 40L1975.4 82M1947 40L1975.4 68.4M1960.6 40L1975.4 54.8M1974.2 40L1975.4 41.2" fill="none" stroke="#5c5c5c" stroke-width="0.95"/></g>
<g clip-path="url(#cR3)" fill="none">
<path d="M1125.4 43.1L1128.5 40M1125.4 47.85L1133.25 40M1125.4 52.6L1138 40M1125.4 57.35L1142.75 40M1125.4 62.1L1147.5 40M1125.4 66.85L1152.25 40M1125.4 71.6L1157 40M1125.4 76.35L1161.75 40M1125.4 81.1L1166.5 40M1125.4 85.85L1171.25 40M1125.4 90.6L1176 40M1125.4 95.35L1180.75 40M1125.4 100.1L1185.5 40M1125.4 104.85L1190.25 40M1125.4 109.6L1195 40M1125.4 114.35L1199.75 40M1125.4 119.1L1204.5 40M1125.4 123.85L1209.25 40M1125.4 128.6L1214 40M1125.4 133.35L1218.75 40M1125.4 138.1L1223.5 40M1125.4 142.85L1228.25 40M1125.4 147.6L1233 40M1125.4 152.35L1237.75 40M1125.4 157.1L1242.5 40M1125.4 161.85L1247.25 40M1125.4 166.6L1252 40M1125.4 171.35L1256.75 40M1125.4 176.1L1261.5 40M1125.4 180.85L1266.25 40M1125.4 185.6L1271 40M1125.4 190.35L1275.75 40M1125.4 195.1L1280.5 40M1125.4 199.85L1285.25 40M1125.4 204.6L1290 40M1125.4 209.35L1294.75 40M1125.4 214.1L1299.5 40M1125.4 218.85L1304.25 40M1125.4 223.6L1309 40M1125.4 228.35L1313.75 40M1125.4 233.1L1318.5 40M1125.4 237.85L1323.25 40M1125.4 242.6L1328 40M1125.4 247.35L1332.75 40M1125.4 252.1L1337.5 40M1125.4 256.85L1342.25 40M1125.4 261.6L1347 40M1125.4 266.35L1351.75 40M1125.4 271.1L1356.5 40M1125.4 275.85L1361.25 40M1125.4 280.6L1366 40M1125.4 285.35L1370.75 40M1125.4 290.1L1375.5 40M1125.4 294.85L1380.25 40M1125.4 299.6L1385 40M1125.4 304.35L1389.75 40M1125.4 309.1L1394.5 40M1125.4 313.85L1399.25 40M1125.4 318.6L1404 40M1125.4 323.35L1408.75 40M1125.4 328.1L1413.5 40M1125.4 332.85L1418.25 40M1125.4 337.6L1423 40M1125.4 342.35L1427.75 40M1125.4 347.1L1432.5 40M1125.4 351.85L1437.25 40M1125.4 356.6L1442 40M1125.4 361.35L1446.75 40M1125.4 366.1L1451.5 40M1125.4 370.85L1456.25 40M1125.4 375.6L1461 40M1125.4 380.35L1465.75 40M1125.4 385.1L1470.5 40M1125.4 389.85L1475.25 40M1125.4 394.6L1480 40M1125.4 399.35L1484.75 40M1125.4 404.1L1489.5 40M1125.4 408.85L1494.25 40M1125.4 413.6L1499 40M1125.4 418.35L1503.75 40M1125.4 423.1L1508.5 40M1125.4 427.85L1513.25 40M1125.4 432.6L1518 40M1125.4 437.35L1522.75 40M1125.4 442.1L1527.5 40M1125.4 446.85L1532.25 40M1125.4 451.6L1537 40M1125.4 456.35L1541.75 40M1125.4 461.1L1546.5 40M1125.4 465.85L1551.25 40M1125.4 470.6L1556 40M1125.4 475.35L1560.75 40M1125.4 480.1L1565.5 40M1125.4 484.85L1570.25 40M1125.4 489.6L1575 40M1125.4 494.35L1579.75 40M1125.4 499.1L1584.5 40M1125.4 503.85L1589.25 40M1125.4 508.6L1594 40M1125.4 513.35L1598.75 40M1125.4 518.1L1603.5 40M1125.4 522.85L1608.25 40M1125.4 527.6L1613 40M1125.4 532.35L1617.75 40M1125.4 537.1L1622.5 40M1125.4 541.85L1627.25 40M1125.4 546.6L1632 40M1125.4 551.35L1636.75 40M1125.4 556.1L1641.5 40M1125.4 560.85L1646.25 40M1125.4 565.6L1651 40M1125.4 570.35L1655.75 40M1125.4 575.1L1660.5 40M1125.4 579.85L1665.25 40M1125.4 584.6L1670 40M1125.4 589.35L1674.75 40M1125.4 594.1L1679.5 40M1125.4 598.85L1684.25 40M1125.4 603.6L1689 40M1125.4 608.35L1693.75 40M1125.4 613.1L1698.5 40M1125.4 617.85L1703.25 40M1125.4 622.6L1708 40M1125.4 627.35L1712.75 40M1125.4 632.1L1717.5 40M1125.4 636.85L1722.25 40M1125.4 641.6L1727 40M1125.4 646.35L1731.75 40M1125.4 651.1L1736.5 40M1125.4 655.85L1741.25 40M1125.4 660.6L1746 40M1125.4 665.35L1750.75 40M1125.4 670.1L1755.5 40M1125.4 674.85L1760.25 40M1125.4 679.6L1765 40M1125.4 684.35L1769.75 40M1125.4 689.1L1774.5 40M1125.4 693.85L1779.25 40M1125.4 698.6L1784 40M1125.4 703.35L1788.75 40M1125.4 708.1L1793.5 40M1125.4 712.85L1798.25 40M1125.4 717.6L1803 40M1125.4 722.35L1807.75 40M1125.4 727.1L1812.5 40M1125.4 731.85L1817.25 40M1125.4 736.6L1822 40M1125.4 741.35L1826.75 40M1125.4 746.1L1831.5 40M1127.95 748.3L1836.25 40M1132.7 748.3L1841 40M1137.45 748.3L1845.75 40M1142.2 748.3L1850.5 40M1146.95 748.3L1855.25 40M1151.7 748.3L1860 40M1156.45 748.3L1864.75 40M1161.2 748.3L1869.5 40M1165.95 748.3L1874.25 40M1170.7 748.3L1879 40M1175.45 748.3L1883.75 40M1180.2 748.3L1888.5 40M1184.95 748.3L1893.25 40M1189.7 748.3L1898 40M1194.45 748.3L1902.75 40M1199.2 748.3L1907.5 40M1203.95 748.3L1912.25 40M1208.7 748.3L1917 40M1213.45 748.3L1921.75 40M1218.2 748.3L1926.5 40M1222.95 748.3L1931.25 40M1227.7 748.3L1936 40M1232.45 748.3L1940.75 40M1237.2 748.3L1945.5 40M1241.95 748.3L1950.25 40M1246.7 748.3L1955 40M1251.45 748.3L1959.75 40M1256.2 748.3L1964.5 40M1260.95 748.3L1969.25 40M1265.7 748.3L1974 40M1270.45 748.3L1975.4 43.35M1275.2 748.3L1975.4 48.1M1279.95 748.3L1975.4 52.85M1284.7 748.3L1975.4 57.6M1289.45 748.3L1975.4 62.35M1294.2 748.3L1975.4 67.1M1298.95 748.3L1975.4 71.85M1303.7 748.3L1975.4 76.6M1308.45 748.3L1975.4 81.35M1313.2 748.3L1975.4 86.1M1317.95 748.3L1975.4 90.85M1322.7 748.3L1975.4 95.6M1327.45 748.3L1975.4 100.35M1332.2 748.3L1975.4 105.1M1336.95 748.3L1975.4 109.85M1341.7 748.3L1975.4 114.6M1346.45 748.3L1975.4 119.35M1351.2 748.3L1975.4 124.1M1355.95 748.3L1975.4 128.85M1360.7 748.3L1975.4 133.6M1365.45 748.3L1975.4 138.35M1370.2 748.3L1975.4 143.1M1374.95 748.3L1975.4 147.85M1379.7 748.3L1975.4 152.6M1384.45 748.3L1975.4 157.35M1389.2 748.3L1975.4 162.1M1393.95 748.3L1975.4 166.85M1398.7 748.3L1975.4 171.6M1403.45 748.3L1975.4 176.35M1408.2 748.3L1975.4 181.1M1412.95 748.3L1975.4 185.85M1417.7 748.3L1975.4 190.6M1422.45 748.3L1975.4 195.35M1427.2 748.3L1975.4 200.1M1431.95 748.3L1975.4 204.85M1436.7 748.3L1975.4 209.6M1441.45 748.3L1975.4 214.35M1446.2 748.3L1975.4 219.1M1450.95 748.3L1975.4 223.85M1455.7 748.3L1975.4 228.6M1460.45 748.3L1975.4 233.35M1465.2 748.3L1975.4 238.1M1469.95 748.3L1975.4 242.85M1474.7 748.3L1975.4 247.6M1479.45 748.3L1975.4 252.35M1484.2 748.3L1975.4 257.1M1488.95 748.3L1975.4 261.85M1493.7 748.3L1975.4 266.6M1498.45 748.3L1975.4 271.35M1503.2 748.3L1975.4 276.1M1507.95 748.3L1975.4 280.85M1512.7 748.3L1975.4 285.6M1517.45 748.3L1975.4 290.35M1522.2 748.3L1975.4 295.1M1526.95 748.3L1975.4 299.85M1531.7 748.3L1975.4 304.6M1536.45 748.3L1975.4 309.35M1541.2 748.3L1975.4 314.1M1545.95 748.3L1975.4 318.85M1550.7 748.3L1975.4 323.6M1555.45 748.3L1975.4 328.35M1560.2 748.3L1975.4 333.1M1564.95 748.3L1975.4 337.85M1569.7 748.3L1975.4 342.6M1574.45 748.3L1975.4 347.35M1579.2 748.3L1975.4 352.1M1583.95 748.3L1975.4 356.85M1588.7 748.3L1975.4 361.6M1593.45 748.3L1975.4 366.35M1598.2 748.3L1975.4 371.1M1602.95 748.3L1975.4 375.85M1607.7 748.3L1975.4 380.6M1612.45 748.3L1975.4 385.35M1617.2 748.3L1975.4 390.1M1621.95 748.3L1975.4 394.85M1626.7 748.3L1975.4 399.6M1631.45 748.3L1975.4 404.35M1636.2 748.3L1975.4 409.1M1640.95 748.3L1975.4 413.85M1645.7 748.3L1975.4 418.6M1650.45 748.3L1975.4 423.35M1655.2 748.3L1975.4 428.1M1659.95 748.3L1975.4 432.85M1664.7 748.3L1975.4 437.6M1669.45 748.3L1975.4 442.35M1674.2 748.3L1975.4 447.1M1678.95 748.3L1975.4 451.85M1683.7 748.3L1975.4 456.6M1688.45 748.3L1975.4 461.35M1693.2 748.3L1975.4 466.1M1697.95 748.3L1975.4 470.85M1702.7 748.3L1975.4 475.6M1707.45 748.3L1975.4 480.35M1712.2 748.3L1975.4 485.1M1716.95 748.3L1975.4 489.85M1721.7 748.3L1975.4 494.6M1726.45 748.3L1975.4 499.35M1731.2 748.3L1975.4 504.1M1735.95 748.3L1975.4 508.85M1740.7 748.3L1975.4 513.6M1745.45 748.3L1975.4 518.35M1750.2 748.3L1975.4 523.1M1754.95 748.3L1975.4 527.85M1759.7 748.3L1975.4 532.6M1764.45 748.3L1975.4 537.35M1769.2 748.3L1975.4 542.1M1773.95 748.3L1975.4 546.85M1778.7 748.3L1975.4 551.6M1783.45 748.3L1975.4 556.35M1788.2 748.3L1975.4 561.1M1792.95 748.3L1975.4 565.85M1797.7 748.3L1975.4 570.6M1802.45 748.3L1975.4 575.35M1807.2 748.3L1975.4 580.1M1811.95 748.3L1975.4 584.85M1816.7 748.3L1975.4 589.6M1821.45 748.3L1975.4 594.35M1826.2 748.3L1975.4 599.1M1830.95 748.3L1975.4 603.85M1835.7 748.3L1975.4 608.6M1840.45 748.3L1975.4 613.35M1845.2 748.3L1975.4 618.1M1849.95 748.3L1975.4 622.85M1854.7 748.3L1975.4 627.6M1859.45 748.3L1975.4 632.35M1864.2 748.3L1975.4 637.1M1868.95 748.3L1975.4 641.85M1873.7 748.3L1975.4 646.6M1878.45 748.3L1975.4 651.35M1883.2 748.3L1975.4 656.1M1887.95 748.3L1975.4 660.85M1892.7 748.3L1975.4 665.6M1897.45 748.3L1975.4 670.35M1902.2 748.3L1975.4 675.1M1906.95 748.3L1975.4 679.85M1911.7 748.3L1975.4 684.6M1916.45 748.3L1975.4 689.35M1921.2 748.3L1975.4 694.1M1925.95 748.3L1975.4 698.85M1930.7 748.3L1975.4 703.6M1935.45 748.3L1975.4 708.35M1940.2 748.3L1975.4 713.1M1944.95 748.3L1975.4 717.85M1949.7 748.3L1975.4 722.6M1954.45 748.3L1975.4 727.35M1959.2 748.3L1975.4 732.1M1963.95 748.3L1975.4 736.85M1968.7 748.3L1975.4 741.6M1973.45 748.3L1975.4 746.35" stroke="#626262" stroke-width="1.04"/>
<g stroke="#626262" stroke-width="1.02" stroke-dasharray="3.36 3.36">
<path d="M755.25 384.75L1551.85 1181.35M760 380L1556.6 1176.6M764.75 375.25L1561.35 1171.85M769.5 370.5L1566.1 1167.1M774.25 365.75L1570.85 1162.35M779 361L1575.6 1157.6M783.75 356.25L1580.35 1152.85M788.5 351.5L1585.1 1148.1M793.25 346.75L1589.85 1143.35M798 342L1594.6 1138.6M802.75 337.25L1599.35 1133.85M807.5 332.5L1604.1 1129.1M812.25 327.75L1608.85 1124.35M817 323L1613.6 1119.6M821.75 318.25L1618.35 1114.85M826.5 313.5L1623.1 1110.1M831.25 308.75L1627.85 1105.35M836 304L1632.6 1100.6M840.75 299.25L1637.35 1095.85M845.5 294.5L1642.1 1091.1M850.25 289.75L1646.85 1086.35M855 285L1651.6 1081.6M859.75 280.25L1656.35 1076.85M864.5 275.5L1661.1 1072.1M869.25 270.75L1665.85 1067.35M874 266L1670.6 1062.6M878.75 261.25L1675.35 1057.85M883.5 256.5L1680.1 1053.1M888.25 251.75L1684.85 1048.35M893 247L1689.6 1043.6M897.75 242.25L1694.35 1038.85M902.5 237.5L1699.1 1034.1M907.25 232.75L1703.85 1029.35M912 228L1708.6 1024.6M916.75 223.25L1713.35 1019.85M921.5 218.5L1718.1 1015.1M926.25 213.75L1722.85 1010.35M931 209L1727.6 1005.6M935.75 204.25L1732.35 1000.85M940.5 199.5L1737.1 996.1M945.25 194.75L1741.85 991.35M950 190L1746.6 986.6M954.75 185.25L1751.35 981.85M959.5 180.5L1756.1 977.1M964.25 175.75L1760.85 972.35M969 171L1765.6 967.6M973.75 166.25L1770.35 962.85M978.5 161.5L1775.1 958.1M983.25 156.75L1779.85 953.35M988 152L1784.6 948.6M992.75 147.25L1789.35 943.85M997.5 142.5L1794.1 939.1M1002.25 137.75L1798.85 934.35M1007 133L1803.6 929.6M1011.75 128.25L1808.35 924.85M1016.5 123.5L1813.1 920.1M1021.25 118.75L1817.85 915.35M1026 114L1822.6 910.6M1030.75 109.25L1827.35 905.85M1035.5 104.5L1832.1 901.1M1040.25 99.75L1836.85 896.35M1045 95L1841.6 891.6M1049.75 90.25L1846.35 886.85M1054.5 85.5L1851.1 882.1M1059.25 80.75L1855.85 877.35M1064 76L1860.6 872.6M1068.75 71.25L1865.35 867.85M1073.5 66.5L1870.1 863.1M1078.25 61.75L1874.85 858.35M1083 57L1879.6 853.6M1087.75 52.25L1884.35 848.85M1092.5 47.5L1889.1 844.1M1097.25 42.75L1893.85 839.35M1102 38L1898.6 834.6M1106.75 33.25L1903.35 829.85M1111.5 28.5L1908.1 825.1M1116.25 23.75L1912.85 820.35M1121 19L1917.6 815.6M1125.75 14.25L1922.35 810.85M1130.5 9.5L1927.1 806.1M1135.25 4.75L1931.85 801.35M1140 0L1936.6 796.6M1144.75 -4.75L1941.35 791.85M1149.5 -9.5L1946.1 787.1M1154.25 -14.25L1950.85 782.35M1159 -19L1955.6 777.6M1163.75 -23.75L1960.35 772.85M1168.5 -28.5L1965.1 768.1M1173.25 -33.25L1969.85 763.35M1178 -38L1974.6 758.6M1182.75 -42.75L1979.35 753.85M1187.5 -47.5L1984.1 749.1M1192.25 -52.25L1988.85 744.35M1197 -57L1993.6 739.6M1201.75 -61.75L1998.35 734.85M1206.5 -66.5L2003.1 730.1M1211.25 -71.25L2007.85 725.35M1216 -76L2012.6 720.6M1220.75 -80.75L2017.35 715.85M1225.5 -85.5L2022.1 711.1M1230.25 -90.25L2026.85 706.35M1235 -95L2031.6 701.6M1239.75 -99.75L2036.35 696.85M1244.5 -104.5L2041.1 692.1M1249.25 -109.25L2045.85 687.35M1254 -114L2050.6 682.6M1258.75 -118.75L2055.35 677.85M1263.5 -123.5L2060.1 673.1M1268.25 -128.25L2064.85 668.35M1273 -133L2069.6 663.6M1277.75 -137.75L2074.35 658.85M1282.5 -142.5L2079.1 654.1M1287.25 -147.25L2083.85 649.35M1292 -152L2088.6 644.6M1296.75 -156.75L2093.35 639.85M1301.5 -161.5L2098.1 635.1M1306.25 -166.25L2102.85 630.35M1311 -171L2107.6 625.6M1315.75 -175.75L2112.35 620.85M1320.5 -180.5L2117.1 616.1M1325.25 -185.25L2121.85 611.35M1330 -190L2126.6 606.6M1334.75 -194.75L2131.35 601.85M1339.5 -199.5L2136.1 597.1M1344.25 -204.25L2140.85 592.35M1349 -209L2145.6 587.6M1353.75 -213.75L2150.35 582.85M1358.5 -218.5L2155.1 578.1M1363.25 -223.25L2159.85 573.35M1368 -228L2164.6 568.6M1372.75 -232.75L2169.35 563.85M1377.5 -237.5L2174.1 559.1M1382.25 -242.25L2178.85 554.35M1387 -247L2183.6 549.6M1391.75 -251.75L2188.35 544.85M1396.5 -256.5L2193.1 540.1M1401.25 -261.25L2197.85 535.35M1406 -266L2202.6 530.6M1410.75 -270.75L2207.35 525.85M1415.5 -275.5L2212.1 521.1M1420.25 -280.25L2216.85 516.35M1425 -285L2221.6 511.6M1429.75 -289.75L2226.35 506.85M1434.5 -294.5L2231.1 502.1M1439.25 -299.25L2235.85 497.35M1444 -304L2240.6 492.6M1448.75 -308.75L2245.35 487.85M1453.5 -313.5L2250.1 483.1M1458.25 -318.25L2254.85 478.35M1463 -323L2259.6 473.6M1467.75 -327.75L2264.35 468.85M1472.5 -332.5L2269.1 464.1M1477.25 -337.25L2273.85 459.35M1482 -342L2278.6 454.6M1486.75 -346.75L2283.35 449.85M1491.5 -351.5L2288.1 445.1M1496.25 -356.25L2292.85 440.35M1501 -361L2297.6 435.6M1505.75 -365.75L2302.35 430.85M1510.5 -370.5L2307.1 426.1M1515.25 -375.25L2311.85 421.35M1520 -380L2316.6 416.6M1524.75 -384.75L2321.35 411.85M1529.5 -389.5L2326.1 407.1M1534.25 -394.25L2330.85 402.35M1539 -399L2335.6 397.6"/>
<path stroke-dashoffset="3.36" d="M757.62 382.38L1554.22 1178.97M762.38 377.62L1558.97 1174.22M767.12 372.88L1563.72 1169.47M771.88 368.12L1568.47 1164.72M776.62 363.38L1573.22 1159.97M781.38 358.62L1577.97 1155.22M786.12 353.88L1582.72 1150.47M790.88 349.12L1587.47 1145.72M795.62 344.38L1592.22 1140.97M800.38 339.62L1596.97 1136.22M805.12 334.88L1601.72 1131.47M809.88 330.12L1606.47 1126.72M814.62 325.38L1611.22 1121.97M819.38 320.62L1615.97 1117.22M824.12 315.88L1620.72 1112.47M828.88 311.12L1625.47 1107.72M833.62 306.38L1630.22 1102.97M838.38 301.62L1634.97 1098.22M843.12 296.88L1639.72 1093.47M847.88 292.12L1644.47 1088.72M852.62 287.38L1649.22 1083.97M857.38 282.62L1653.97 1079.22M862.12 277.88L1658.72 1074.47M866.88 273.12L1663.47 1069.72M871.62 268.38L1668.22 1064.97M876.38 263.62L1672.97 1060.22M881.12 258.88L1677.72 1055.47M885.88 254.12L1682.47 1050.72M890.62 249.38L1687.22 1045.97M895.38 244.62L1691.97 1041.22M900.12 239.88L1696.72 1036.47M904.88 235.12L1701.47 1031.72M909.62 230.38L1706.22 1026.97M914.38 225.62L1710.97 1022.22M919.12 220.88L1715.72 1017.47M923.88 216.12L1720.47 1012.72M928.62 211.38L1725.22 1007.97M933.38 206.62L1729.97 1003.22M938.12 201.88L1734.72 998.47M942.88 197.12L1739.47 993.72M947.62 192.38L1744.22 988.97M952.38 187.62L1748.97 984.22M957.12 182.88L1753.72 979.47M961.88 178.12L1758.47 974.72M966.62 173.38L1763.22 969.97M971.38 168.62L1767.97 965.22M976.12 163.88L1772.72 960.47M980.88 159.12L1777.47 955.72M985.62 154.38L1782.22 950.97M990.38 149.62L1786.97 946.22M995.12 144.88L1791.72 941.47M999.88 140.12L1796.47 936.72M1004.62 135.38L1801.22 931.97M1009.38 130.62L1805.97 927.22M1014.12 125.88L1810.72 922.47M1018.88 121.12L1815.47 917.72M1023.62 116.38L1820.22 912.97M1028.38 111.62L1824.97 908.22M1033.12 106.88L1829.72 903.47M1037.88 102.12L1834.47 898.72M1042.62 97.38L1839.22 893.97M1047.38 92.62L1843.97 889.22M1052.12 87.88L1848.72 884.47M1056.88 83.12L1853.47 879.72M1061.62 78.38L1858.22 874.97M1066.38 73.62L1862.97 870.22M1071.12 68.88L1867.72 865.47M1075.88 64.12L1872.47 860.72M1080.62 59.38L1877.22 855.97M1085.38 54.62L1881.97 851.22M1090.12 49.88L1886.72 846.47M1094.88 45.12L1891.47 841.72M1099.62 40.38L1896.22 836.97M1104.38 35.62L1900.97 832.22M1109.12 30.88L1905.72 827.47M1113.88 26.12L1910.47 822.72M1118.62 21.38L1915.22 817.97M1123.38 16.62L1919.97 813.22M1128.12 11.88L1924.72 808.47M1132.88 7.12L1929.47 803.72M1137.62 2.38L1934.22 798.97M1142.38 -2.38L1938.97 794.22M1147.12 -7.12L1943.72 789.47M1151.88 -11.88L1948.47 784.72M1156.62 -16.62L1953.22 779.97M1161.38 -21.38L1957.97 775.22M1166.12 -26.12L1962.72 770.47M1170.88 -30.88L1967.47 765.72M1175.62 -35.62L1972.22 760.97M1180.38 -40.38L1976.97 756.22M1185.12 -45.12L1981.72 751.47M1189.88 -49.88L1986.47 746.72M1194.62 -54.62L1991.22 741.97M1199.38 -59.38L1995.97 737.22M1204.12 -64.12L2000.72 732.47M1208.88 -68.88L2005.47 727.72M1213.62 -73.62L2010.22 722.97M1218.38 -78.38L2014.97 718.22M1223.12 -83.12L2019.72 713.47M1227.88 -87.88L2024.47 708.72M1232.62 -92.62L2029.22 703.97M1237.38 -97.38L2033.97 699.22M1242.12 -102.12L2038.72 694.47M1246.88 -106.88L2043.47 689.72M1251.62 -111.62L2048.22 684.97M1256.38 -116.38L2052.97 680.22M1261.12 -121.12L2057.72 675.47M1265.88 -125.88L2062.47 670.72M1270.62 -130.62L2067.22 665.97M1275.38 -135.38L2071.97 661.22M1280.12 -140.12L2076.72 656.47M1284.88 -144.88L2081.47 651.72M1289.62 -149.62L2086.22 646.97M1294.38 -154.38L2090.97 642.22M1299.12 -159.12L2095.72 637.47M1303.88 -163.88L2100.47 632.72M1308.62 -168.62L2105.22 627.97M1313.38 -173.38L2109.97 623.22M1318.12 -178.12L2114.72 618.47M1322.88 -182.88L2119.47 613.72M1327.62 -187.62L2124.22 608.97M1332.38 -192.38L2128.97 604.22M1337.12 -197.12L2133.72 599.47M1341.88 -201.88L2138.47 594.72M1346.62 -206.62L2143.22 589.97M1351.38 -211.38L2147.97 585.22M1356.12 -216.12L2152.72 580.47M1360.88 -220.88L2157.47 575.72M1365.62 -225.62L2162.22 570.97M1370.38 -230.38L2166.97 566.22M1375.12 -235.12L2171.72 561.47M1379.88 -239.88L2176.47 556.72M1384.62 -244.62L2181.22 551.97M1389.38 -249.38L2185.97 547.22M1394.12 -254.12L2190.72 542.47M1398.88 -258.88L2195.47 537.72M1403.62 -263.62L2200.22 532.97M1408.38 -268.38L2204.97 528.22M1413.12 -273.12L2209.72 523.47M1417.88 -277.88L2214.47 518.72M1422.62 -282.62L2219.22 513.97M1427.38 -287.38L2223.97 509.22M1432.12 -292.12L2228.72 504.47M1436.88 -296.88L2233.47 499.72M1441.62 -301.62L2238.22 494.97M1446.38 -306.38L2242.97 490.22M1451.12 -311.12L2247.72 485.47M1455.88 -315.88L2252.47 480.72M1460.62 -320.62L2257.22 475.97M1465.38 -325.38L2261.97 471.22M1470.12 -330.12L2266.72 466.47M1474.88 -334.88L2271.47 461.72M1479.62 -339.62L2276.22 456.97M1484.38 -344.38L2280.97 452.22M1489.12 -349.12L2285.72 447.47M1493.88 -353.88L2290.47 442.72M1498.62 -358.62L2295.22 437.97M1503.38 -363.38L2299.97 433.22M1508.12 -368.12L2304.72 428.47M1512.88 -372.88L2309.47 423.72M1517.62 -377.62L2314.22 418.97M1522.38 -382.38L2318.97 414.22M1527.12 -387.12L2323.72 409.47M1531.88 -391.88L2328.47 404.72M1536.62 -396.62L2333.22 399.97"/>
</g></g>
<g clip-path="url(#cR4)" fill="none" stroke="#484848" stroke-width="1.05" stroke-dasharray="2.1 2.65">
<path d="M1225.5 707.75V748.3M1230.25 707.75V748.3M1235 707.75V748.3M1239.75 707.75V748.3M1244.5 707.75V748.3M1249.25 707.75V748.3M1396.5 308.75V748.3M1401.25 308.75V748.3M1406 308.75V748.3M1410.75 308.75V748.3M1415.5 308.75V748.3M1420.25 308.75V748.3M1567.5 517.75V748.3M1572.25 517.75V748.3M1577 517.75V748.3M1581.75 517.75V748.3M1586.5 517.75V748.3M1591.25 517.75V748.3M1733.75 484.5V748.3M1738.5 484.5V748.3M1743.25 484.5V748.3M1748 484.5V748.3M1752.75 484.5V748.3M1757.5 484.5V748.3M1904.75 418V748.3M1909.5 418V748.3M1914.25 418V748.3M1919 418V748.3M1923.75 418V748.3M1928.5 418V748.3"/>
<path stroke-dashoffset="2.375" d="M1223.12 707.75V748.3M1227.88 707.75V748.3M1232.62 707.75V748.3M1237.38 707.75V748.3M1242.12 707.75V748.3M1246.88 707.75V748.3M1251.62 707.75V748.3M1394.12 308.75V748.3M1398.88 308.75V748.3M1403.62 308.75V748.3M1408.38 308.75V748.3M1413.12 308.75V748.3M1417.88 308.75V748.3M1565.12 517.75V748.3M1569.88 517.75V748.3M1574.62 517.75V748.3M1579.38 517.75V748.3M1584.12 517.75V748.3M1588.88 517.75V748.3M1736.12 484.5V748.3M1740.88 484.5V748.3M1745.62 484.5V748.3M1750.38 484.5V748.3M1755.12 484.5V748.3M1759.88 484.5V748.3M1907.12 418V748.3M1911.88 418V748.3M1916.62 418V748.3M1921.38 418V748.3M1926.12 418V748.3M1930.88 418V748.3"/>
</g>
<g clip-path="url(#cR5)"><path d="M1125.4 55.6L1141 40M1125.4 75.2L1160.6 40M1125.4 94.8L1180.2 40M1125.4 114.4L1199.8 40M1125.4 134L1219.4 40M1125.4 153.6L1239 40M1125.4 173.2L1258.6 40M1125.4 192.8L1278.2 40M1125.4 212.4L1297.8 40M1125.4 232L1317.4 40M1125.4 251.6L1337 40M1125.4 271.2L1356.6 40M1125.4 290.8L1376.2 40M1125.4 310.4L1395.8 40M1125.4 330L1415.4 40M1125.4 349.6L1435 40M1125.4 369.2L1454.6 40M1125.4 388.8L1474.2 40M1125.4 408.4L1493.8 40M1125.4 428L1513.4 40M1125.4 447.6L1533 40M1125.4 467.2L1552.6 40M1125.4 486.8L1572.2 40M1125.4 506.4L1591.8 40M1125.4 526L1611.4 40M1125.4 545.6L1631 40M1125.4 565.2L1650.6 40M1125.4 584.8L1670.2 40M1125.4 604.4L1689.8 40M1125.4 624L1709.4 40M1125.4 643.6L1729 40M1125.4 663.2L1748.6 40M1125.4 682.8L1768.2 40M1125.4 702.4L1787.8 40M1125.4 722L1807.4 40M1125.4 741.6L1827 40M1138.3 748.3L1846.6 40M1157.9 748.3L1866.2 40M1177.5 748.3L1885.8 40M1197.1 748.3L1905.4 40M1216.7 748.3L1925 40M1236.3 748.3L1944.6 40M1255.9 748.3L1964.2 40M1275.5 748.3L1975.4 48.4M1295.1 748.3L1975.4 68M1314.7 748.3L1975.4 87.6M1334.3 748.3L1975.4 107.2M1353.9 748.3L1975.4 126.8M1373.5 748.3L1975.4 146.4M1393.1 748.3L1975.4 166M1412.7 748.3L1975.4 185.6M1432.3 748.3L1975.4 205.2M1451.9 748.3L1975.4 224.8M1471.5 748.3L1975.4 244.4M1491.1 748.3L1975.4 264M1510.7 748.3L1975.4 283.6M1530.3 748.3L1975.4 303.2M1549.9 748.3L1975.4 322.8M1569.5 748.3L1975.4 342.4M1589.1 748.3L1975.4 362M1608.7 748.3L1975.4 381.6M1628.3 748.3L1975.4 401.2M1647.9 748.3L1975.4 420.8M1667.5 748.3L1975.4 440.4M1687.1 748.3L1975.4 460M1706.7 748.3L1975.4 479.6M1726.3 748.3L1975.4 499.2M1745.9 748.3L1975.4 518.8M1765.5 748.3L1975.4 538.4M1785.1 748.3L1975.4 558M1804.7 748.3L1975.4 577.6M1824.3 748.3L1975.4 597.2M1843.9 748.3L1975.4 616.8M1863.5 748.3L1975.4 636.4M1883.1 748.3L1975.4 656M1902.7 748.3L1975.4 675.6M1922.3 748.3L1975.4 695.2M1941.9 748.3L1975.4 714.8M1961.5 748.3L1975.4 734.4M1125.4 731.4L1142.3 748.3M1125.4 711.8L1161.9 748.3M1125.4 692.2L1181.5 748.3M1125.4 672.6L1201.1 748.3M1125.4 653L1220.7 748.3M1125.4 633.4L1240.3 748.3M1125.4 613.8L1259.9 748.3M1125.4 594.2L1279.5 748.3M1125.4 574.6L1299.1 748.3M1125.4 555L1318.7 748.3M1125.4 535.4L1338.3 748.3M1125.4 515.8L1357.9 748.3M1125.4 496.2L1377.5 748.3M1125.4 476.6L1397.1 748.3M1125.4 457L1416.7 748.3M1125.4 437.4L1436.3 748.3M1125.4 417.8L1455.9 748.3M1125.4 398.2L1475.5 748.3M1125.4 378.6L1495.1 748.3M1125.4 359L1514.7 748.3M1125.4 339.4L1534.3 748.3M1125.4 319.8L1553.9 748.3M1125.4 300.2L1573.5 748.3M1125.4 280.6L1593.1 748.3M1125.4 261L1612.7 748.3M1125.4 241.4L1632.3 748.3M1125.4 221.8L1651.9 748.3M1125.4 202.2L1671.5 748.3M1125.4 182.6L1691.1 748.3M1125.4 163L1710.7 748.3M1125.4 143.4L1730.3 748.3M1125.4 123.8L1749.9 748.3M1125.4 104.2L1769.5 748.3M1125.4 84.6L1789.1 748.3M1125.4 65L1808.7 748.3M1125.4 45.4L1828.3 748.3M1139.6 40L1847.9 748.3M1159.2 40L1867.5 748.3M1178.8 40L1887.1 748.3M1198.4 40L1906.7 748.3M1218 40L1926.3 748.3M1237.6 40L1945.9 748.3M1257.2 40L1965.5 748.3M1276.8 40L1975.4 738.6M1296.4 40L1975.4 719M1316 40L1975.4 699.4M1335.6 40L1975.4 679.8M1355.2 40L1975.4 660.2M1374.8 40L1975.4 640.6M1394.4 40L1975.4 621M1414 40L1975.4 601.4M1433.6 40L1975.4 581.8M1453.2 40L1975.4 562.2M1472.8 40L1975.4 542.6M1492.4 40L1975.4 523M1512 40L1975.4 503.4M1531.6 40L1975.4 483.8M1551.2 40L1975.4 464.2M1570.8 40L1975.4 444.6M1590.4 40L1975.4 425M1610 40L1975.4 405.4M1629.6 40L1975.4 385.8M1649.2 40L1975.4 366.2M1668.8 40L1975.4 346.6M1688.4 40L1975.4 327M1708 40L1975.4 307.4M1727.6 40L1975.4 287.8M1747.2 40L1975.4 268.2M1766.8 40L1975.4 248.6M1786.4 40L1975.4 229M1806 40L1975.4 209.4M1825.6 40L1975.4 189.8M1845.2 40L1975.4 170.2M1864.8 40L1975.4 150.6M1884.4 40L1975.4 131M1904 40L1975.4 111.4M1923.6 40L1975.4 91.8M1943.2 40L1975.4 72.2M1962.8 40L1975.4 52.6" fill="none" stroke="#5c5c5c" stroke-width="0.95"/></g>
<rect x="1142.35" y="598.3" width="27.2" height="150" fill="none" stroke="#000" stroke-width="1.75"/>
<rect x="1169.55" y="643.7" width="27.2" height="104.6" fill="none" stroke="#000" stroke-width="1.75"/>
<rect x="1196.75" y="628.1" width="27.2" height="120.2" fill="none" stroke="#000" stroke-width="1.75"/>
<rect x="1223.95" y="714.8" width="27.2" height="33.5" fill="none" stroke="#000" stroke-width="1.75"/>
<rect x="1251.15" y="685" width="27.2" height="63.3" fill="none" stroke="#000" stroke-width="1.75"/>
<rect x="1312.35" y="271.8" width="27.2" height="476.5" fill="none" stroke="#000" stroke-width="1.75"/>
<rect x="1339.55" y="265.9" width="27.2" height="482.4" fill="none" stroke="#000" stroke-width="1.75"/>
<rect x="1366.75" y="444.9" width="27.2" height="303.4" fill="none" stroke="#000" stroke-width="1.75"/>
<rect x="1393.95" y="317.3" width="27.2" height="431" fill="none" stroke="#000" stroke-width="1.75"/>
<rect x="1421.15" y="496.2" width="27.2" height="252.1" fill="none" stroke="#000" stroke-width="1.75"/>
<rect x="1482.35" y="224.4" width="27.2" height="523.9" fill="none" stroke="#000" stroke-width="1.75"/>
<rect x="1509.55" y="346.6" width="27.2" height="401.7" fill="none" stroke="#000" stroke-width="1.75"/>
<rect x="1536.75" y="279.8" width="27.2" height="468.5" fill="none" stroke="#000" stroke-width="1.75"/>
<rect x="1563.95" y="527.8" width="27.2" height="220.5" fill="none" stroke="#000" stroke-width="1.75"/>
<rect x="1591.15" y="224.4" width="27.2" height="523.9" fill="none" stroke="#000" stroke-width="1.75"/>
<rect x="1652.35" y="88.9" width="27.2" height="659.4" fill="none" stroke="#000" stroke-width="1.75"/>
<rect x="1679.55" y="364.4" width="27.2" height="383.9" fill="none" stroke="#000" stroke-width="1.75"/>
<rect x="1706.75" y="415.8" width="27.2" height="332.5" fill="none" stroke="#000" stroke-width="1.75"/>
<rect x="1733.95" y="492.7" width="27.2" height="255.6" fill="none" stroke="#000" stroke-width="1.75"/>
<rect x="1761.15" y="467.2" width="27.2" height="281.1" fill="none" stroke="#000" stroke-width="1.75"/>
<rect x="1822.35" y="363" width="27.2" height="385.3" fill="none" stroke="#000" stroke-width="1.75"/>
<rect x="1849.55" y="368.2" width="27.2" height="380.1" fill="none" stroke="#000" stroke-width="1.75"/>
<rect x="1876.75" y="388.5" width="27.2" height="359.8" fill="none" stroke="#000" stroke-width="1.75"/>
<rect x="1903.95" y="424.3" width="27.2" height="324" fill="none" stroke="#000" stroke-width="1.75"/>
<rect x="1931.15" y="405.5" width="27.2" height="342.8" fill="none" stroke="#000" stroke-width="1.75"/>
<path d="M1155.95 581.6V615.1M1148.95 581.6h14M1148.95 615.1h14" fill="none" stroke="#484848" stroke-width="1.03"/>
<text class="sig" transform="translate(1155.95 572.9) scale(1.08 1)">c</text>
<path d="M1183.15 641.7V646M1176.15 641.7h14M1176.15 646h14" fill="none" stroke="#484848" stroke-width="1.03"/>
<text class="sig" transform="translate(1183.15 633) scale(0.935 1)">b</text>
<path d="M1210.35 541.1V713.9M1203.35 541.1h14M1203.35 713.9h14" fill="none" stroke="#484848" stroke-width="1.03"/>
<text class="sig r" transform="translate(1210.35 532.4) scale(0.935 1)">b</text>
<path d="M1237.55 700.3V728.4M1230.55 700.3h14M1230.55 728.4h14" fill="none" stroke="#484848" stroke-width="1.03"/>
<text class="sig" transform="translate(1237.55 691.6) scale(1.08 1)">c</text>
<path d="M1264.75 629.3V740.8M1257.75 629.3h14M1257.75 740.8h14" fill="none" stroke="#484848" stroke-width="1.03"/>
<path d="M1325.95 266.6V277.4M1318.95 266.6h14M1318.95 277.4h14" fill="none" stroke="#484848" stroke-width="1.03"/>
<text class="sig r" transform="translate(1325.95 257.9) scale(0.935 1)">b</text>
<path d="M1353.15 221.1V309.5M1346.15 221.1h14M1346.15 309.5h14" fill="none" stroke="#484848" stroke-width="1.03"/>
<text class="sig" transform="translate(1353.15 212.4) scale(0.935 1)">a</text>
<path d="M1380.35 378.2V511.5M1373.35 378.2h14M1373.35 511.5h14" fill="none" stroke="#484848" stroke-width="1.03"/>
<text class="sig" transform="translate(1380.35 369.5) scale(0.935 1)">a</text>
<path d="M1407.55 303.6V331.4M1400.55 303.6h14M1400.55 331.4h14" fill="none" stroke="#484848" stroke-width="1.03"/>
<text class="sig" transform="translate(1407.55 294.9) scale(0.935 1)">a</text>
<path d="M1434.75 486.6V505.6M1427.75 486.6h14M1427.75 505.6h14" fill="none" stroke="#484848" stroke-width="1.03"/>
<path d="M1495.95 190.7V258.3M1488.95 190.7h14M1488.95 258.3h14" fill="none" stroke="#484848" stroke-width="1.03"/>
<text class="sig r" transform="translate(1495.95 182) scale(0.935 1)">b</text>
<path d="M1523.15 296.3V396.4M1516.15 296.3h14M1516.15 396.4h14" fill="none" stroke="#484848" stroke-width="1.03"/>
<text class="sig" transform="translate(1523.15 287.6) scale(0.935 1)">a</text>
<path d="M1550.35 173.7V385.6M1543.35 173.7h14M1543.35 385.6h14" fill="none" stroke="#484848" stroke-width="1.03"/>
<text class="sig" transform="translate(1550.35 165) scale(0.935 1)">a</text>
<path d="M1577.55 517V537.4M1570.55 517h14M1570.55 537.4h14" fill="none" stroke="#484848" stroke-width="1.03"/>
<text class="sig r" transform="translate(1577.55 508.3) scale(0.935 1)">b</text>
<path d="M1604.75 172.3V276.2M1597.75 172.3h14M1597.75 276.2h14" fill="none" stroke="#484848" stroke-width="1.03"/>
<path d="M1665.95 57.8V119.1M1658.95 57.8h14M1658.95 119.1h14" fill="none" stroke="#484848" stroke-width="1.03"/>
<text class="sig" transform="translate(1665.95 49.1) scale(0.935 1)">a</text>
<path d="M1693.15 354.2V374.3M1686.15 354.2h14M1686.15 374.3h14" fill="none" stroke="#484848" stroke-width="1.03"/>
<text class="sig" transform="translate(1693.15 345.5) scale(0.935 1)">a</text>
<path d="M1720.35 379.6V451.4M1713.35 379.6h14M1713.35 451.4h14" fill="none" stroke="#484848" stroke-width="1.03"/>
<text class="sig" transform="translate(1720.35 370.9) scale(0.935 1)">a</text>
<path d="M1747.55 481.4V503.4M1740.55 481.4h14M1740.55 503.4h14" fill="none" stroke="#484848" stroke-width="1.03"/>
<text class="sig r" transform="translate(1747.55 472.7) scale(0.935 1)">b</text>
<path d="M1774.75 402.4V531M1767.75 402.4h14M1767.75 531h14" fill="none" stroke="#484848" stroke-width="1.03"/>
<path d="M1835.95 351.7V373.2M1828.95 351.7h14M1828.95 373.2h14" fill="none" stroke="#484848" stroke-width="1.03"/>
<text class="sig r" transform="translate(1835.95 343) scale(0.935 1)">b</text>
<path d="M1863.15 348.9V387.3M1856.15 348.9h14M1856.15 387.3h14" fill="none" stroke="#484848" stroke-width="1.03"/>
<text class="sig" transform="translate(1863.15 340.2) scale(0.935 1)">a</text>
<path d="M1890.35 385.4V390.1M1883.35 385.4h14M1883.35 390.1h14" fill="none" stroke="#484848" stroke-width="1.03"/>
<text class="sig" transform="translate(1890.35 376.7) scale(0.935 1)">a</text>
<path d="M1917.55 390.6V457.3M1910.55 390.6h14M1910.55 457.3h14" fill="none" stroke="#484848" stroke-width="1.03"/>
<text class="sig" transform="translate(1917.55 381.9) scale(0.935 1)">ab</text>
<path d="M1944.75 322.3V489.6M1937.75 322.3h14M1937.75 489.6h14" fill="none" stroke="#484848" stroke-width="1.03"/>
<path d="M1125.4 38.2V748.3H1976.5" fill="none" stroke="#000" stroke-width="2.35" stroke-linejoin="miter"/>
<path d="M1125.4 39.3h13.5M1125.4 157.5h13.5M1125.4 275.6h13.5M1125.4 393.8h13.5M1125.4 512h13.5M1125.4 630.1h13.5M1125.4 748.3h13.5M1125.4 98.4h7M1125.4 216.55h7M1125.4 334.7h7M1125.4 452.9h7M1125.4 571.05h7M1125.4 689.2h7M1209.95 748.3v-13.5M1295.35 748.3v-7M1379.95 748.3v-13.5M1465.35 748.3v-7M1549.95 748.3v-13.5M1635.35 748.3v-7M1719.95 748.3v-13.5M1805.35 748.3v-7M1889.95 748.3v-13.5M1975.35 748.3v-7" fill="none" stroke="#000" stroke-width="2.2"/>
<text class="tk r" text-anchor="end" transform="translate(1110.7 47.4) scale(0.96 1)">180</text>
<text class="tk r" text-anchor="end" transform="translate(1110.7 165.6) scale(0.96 1)">150</text>
<text class="tk r" text-anchor="end" transform="translate(1110.7 283.7) scale(0.96 1)">120</text>
<text class="tk r" text-anchor="end" transform="translate(1110.7 401.9) scale(0.96 1)">90</text>
<text class="tk r" text-anchor="end" transform="translate(1110.7 520.1) scale(0.96 1)">60</text>
<text class="tk r" text-anchor="end" transform="translate(1110.7 638.2) scale(0.96 1)">30</text>
<text class="tk r" text-anchor="end" transform="translate(1110.7 756.4) scale(0.96 1)">0</text>
<text class="tk" text-anchor="middle" transform="translate(1210.05 787) scale(0.96 1)">4</text>
<text class="tk" text-anchor="middle" transform="translate(1380.05 787) scale(0.96 1)">5</text>
<text class="tk" text-anchor="middle" transform="translate(1550.05 787) scale(0.96 1)">6</text>
<text class="tk" text-anchor="middle" transform="translate(1720.05 787) scale(0.9 1)">CK</text>
<text class="tk" text-anchor="middle" transform="translate(1890.05 787) scale(0.96 1)">8</text>
<text class="ttl" style="font-size:35px" x="536.6" y="834">不同<tspan class="b">pH</tspan>条件</text>
<text class="cap" x="528" y="893.5">(a)</text>
<text class="ttl" style="font-size:35px" x="1561.9" y="834">不同<tspan class="b">pH</tspan>条件</text>
<text class="cap" x="1558.9" y="893.5">(b)</text>
<text class="ttl" style="font-size:36.5px" transform="translate(45 327.5) rotate(-90)">浸出液<tspan class="b">pH</tspan>值</text>
<text class="ttl" style="font-size:37px" transform="translate(1051 392.8) rotate(-90)">浸出液<tspan class="r">Eh(mv)</tspan></text>
</svg>
</body>
</html>
